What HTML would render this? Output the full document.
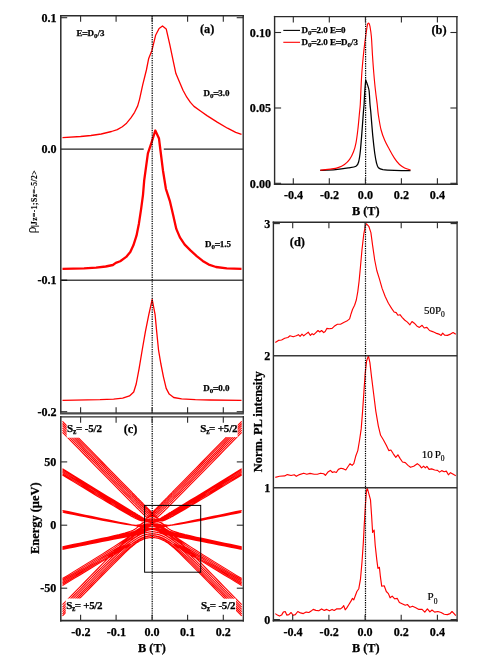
<!DOCTYPE html>
<html><head><meta charset="utf-8"><title>Figure</title>
<style>
html,body{margin:0;padding:0;background:#fff;}
body{width:485px;height:665px;overflow:hidden;font-family:"Liberation Serif",serif;}
svg{display:block;will-change:transform;font-family:"Liberation Serif",serif;}
</style></head><body>
<svg width="485" height="665" viewBox="0 0 485 665">

<path d="M62.5,137.6 L80.6,136.5 L90.9,135.5 L101.2,134.0 L111.5,131.5 L117.3,129.6 L122.3,126.7 L126.6,123.2 L130.9,117.9 L134.6,112.3 L137.7,105.9 L139.6,99.1 L142.7,84.8 L146.4,70.0 L148.6,58.8 L152.0,50.2 L155.6,35.3 L159.1,28.5 L162.5,26.0 L166.2,28.9 L169.8,44.6 L173.3,61.3 L175.9,73.6 L179.5,82.0 L183.0,90.2 L186.8,97.2 L190.4,102.4 L194.0,106.4 L200.8,111.3 L207.0,115.6 L217.2,122.1 L227.5,128.2 L235.7,132.4 L241.5,134.4" fill="none" stroke="#ff0000" stroke-width="1.3" stroke-linejoin="round"/>
<line x1="60.8" y1="149.2" x2="143.7" y2="149.2" stroke="#222" stroke-width="1.25" />
<line x1="163.8" y1="149.2" x2="243.2" y2="149.2" stroke="#222" stroke-width="1.25" />
<line x1="60.8" y1="280.3" x2="243.2" y2="280.3" stroke="#484848" stroke-width="1.5" />
<line x1="60.8" y1="280.3" x2="67.2" y2="280.3" stroke="#111" stroke-width="1.3" />
<path d="M62.5,268.9 L84.1,268.4 L96.1,267.7 L105.7,266.5 L112.9,265.0 L115.8,262.9 L120.2,261.2 L126.2,256.9 L130.3,252.0 L133.4,245.3 L136.5,235.7 L138.9,223.7 L141.1,209.2 L143.0,194.8 L144.2,180.3 L147.9,153.4 L151.6,142.3 L155.3,130.5 L159.0,138.6 L160.6,151.5 L163.0,170.7 L165.9,188.8 L169.8,200.8 L173.2,215.2 L176.3,228.9 L179.9,237.4 L184.7,244.6 L190.7,250.6 L196.7,256.1 L202.7,260.9 L208.8,264.6 L216.0,267.0 L226.8,268.4 L241.5,268.9" fill="none" stroke="#ff0000" stroke-width="2.3" stroke-linejoin="round"/>
<path d="M62.5,400.3 L100.0,399.7 L113.6,399.1 L122.7,398.2 L129.5,395.9 L133.7,392.0 L136.2,384.0 L139.1,368.6 L142.2,350.0 L145.4,331.7 L148.8,314.7 L152.2,299.5 L155.1,314.7 L156.7,331.7 L158.5,349.8 L160.8,363.5 L163.5,377.1 L166.2,388.4 L169.2,394.1 L173.7,397.5 L181.6,398.8 L195.3,399.7 L210.0,400.0 L241.5,400.3" fill="none" stroke="#ff0000" stroke-width="1.3" stroke-linejoin="round"/>
<line x1="152.2" y1="15.7" x2="152.2" y2="413.3" stroke="#000" stroke-width="1.2" stroke-dasharray="1.3,1.03"/>
<line x1="60.8" y1="15.0" x2="60.8" y2="413.3" stroke="#2b2b2b" stroke-width="1.5" /><line x1="243.2" y1="15.0" x2="243.2" y2="413.3" stroke="#2b2b2b" stroke-width="1.4" /><line x1="60.0" y1="15.7" x2="243.9" y2="15.7" stroke="#2b2b2b" stroke-width="1.4" /><line x1="60.0" y1="413.3" x2="243.9" y2="413.3" stroke="#2b2b2b" stroke-width="0.01" />
<line x1="60.0" y1="413.4" x2="243.9" y2="413.4" stroke="#4a4a4a" stroke-width="2.2" />
<line x1="80.6" y1="15.7" x2="80.6" y2="21.7" stroke="#2b2b2b" stroke-width="1.1" />
<line x1="80.6" y1="413.3" x2="80.6" y2="407.3" stroke="#2b2b2b" stroke-width="1.1" />
<line x1="116.1" y1="15.7" x2="116.1" y2="21.7" stroke="#2b2b2b" stroke-width="1.1" />
<line x1="116.1" y1="413.3" x2="116.1" y2="407.3" stroke="#2b2b2b" stroke-width="1.1" />
<line x1="152.1" y1="15.7" x2="152.1" y2="21.7" stroke="#2b2b2b" stroke-width="1.1" />
<line x1="152.1" y1="413.3" x2="152.1" y2="407.3" stroke="#2b2b2b" stroke-width="1.1" />
<line x1="187.6" y1="15.7" x2="187.6" y2="21.7" stroke="#2b2b2b" stroke-width="1.1" />
<line x1="187.6" y1="413.3" x2="187.6" y2="407.3" stroke="#2b2b2b" stroke-width="1.1" />
<line x1="223.3" y1="15.7" x2="223.3" y2="21.7" stroke="#2b2b2b" stroke-width="1.1" />
<line x1="223.3" y1="413.3" x2="223.3" y2="407.3" stroke="#2b2b2b" stroke-width="1.1" />
<line x1="60.8" y1="17.7" x2="67.2" y2="17.7" stroke="#2b2b2b" stroke-width="1.1" />
<line x1="243.2" y1="17.7" x2="236.7" y2="17.7" stroke="#2b2b2b" stroke-width="1.1" />
<line x1="60.8" y1="411.7" x2="67.2" y2="411.7" stroke="#2b2b2b" stroke-width="1.1" />
<line x1="243.2" y1="411.7" x2="236.7" y2="411.7" stroke="#2b2b2b" stroke-width="1.1" />
<text x="56.6" y="21.7" font-size="12.1" text-anchor="end" font-weight="bold" fill="#000" stroke="#000" stroke-width="0.25" >0.1</text>
<text x="56.6" y="153.0" font-size="12.1" text-anchor="end" font-weight="bold" fill="#000" stroke="#000" stroke-width="0.25" >0.0</text>
<text x="56.6" y="284.4" font-size="12.1" text-anchor="end" font-weight="bold" fill="#000" stroke="#000" stroke-width="0.25" >-0.1</text>
<text x="56.6" y="415.7" font-size="12.1" text-anchor="end" font-weight="bold" fill="#000" stroke="#000" stroke-width="0.25" >-0.2</text>
<text x="90.5" y="36.2" font-size="9" text-anchor="middle" font-weight="bold" fill="#000" stroke="#000" stroke-width="0.25" >E<tspan font-size="10.6" dx="-0.5" dy="1.0">=</tspan><tspan dx="-0.55" dy="-1.0" font-size="1">&#8203;</tspan>D<tspan font-size="7" dy="2.1">0</tspan><tspan dy="-2.1" font-size="1">&#8203;</tspan>/3</text>
<text x="207.2" y="33.0" font-size="12.4" text-anchor="middle" font-weight="bold" fill="#000" stroke="#000" stroke-width="0.25" >(a)</text>
<text x="216.5" y="95.9" font-size="9" text-anchor="middle" font-weight="bold" fill="#000" stroke="#000" stroke-width="0.25" >D<tspan font-size="7" dy="2.1">0</tspan><tspan dy="-2.1" font-size="1">&#8203;</tspan><tspan font-size="10.6" dx="-0.5" dy="1.0">=</tspan><tspan dx="-0.55" dy="-1.0" font-size="1">&#8203;</tspan>3.0</text>
<text x="218.0" y="247.0" font-size="9" text-anchor="middle" font-weight="bold" fill="#000" stroke="#000" stroke-width="0.25" >D<tspan font-size="7" dy="2.1">0</tspan><tspan dy="-2.1" font-size="1">&#8203;</tspan><tspan font-size="10.6" dx="-0.5" dy="1.0">=</tspan><tspan dx="-0.55" dy="-1.0" font-size="1">&#8203;</tspan>1.5</text>
<text x="216.3" y="391.2" font-size="9" text-anchor="middle" font-weight="bold" fill="#000" stroke="#000" stroke-width="0.25" >D<tspan font-size="7" dy="2.1">0</tspan><tspan dy="-2.1" font-size="1">&#8203;</tspan><tspan font-size="10.6" dx="-0.5" dy="1.0">=</tspan><tspan dx="-0.55" dy="-1.0" font-size="1">&#8203;</tspan>0.0</text>
<g transform="translate(35.8,233.6) rotate(-90)"><text x="0" y="0" font-size="14" font-weight="normal" text-anchor="start">&#961;</text><text x="6.6" y="1.2" font-size="7.6" font-weight="bold" text-anchor="start" stroke="#000" stroke-width="0.15" textLength="56.5" lengthAdjust="spacing">|Jz=-1;Sz=-5/2&gt;</text></g>
<clipPath id="cc"><rect x="60.75" y="416.75" width="182.55" height="203.95000000000005"/></clipPath>
<g clip-path="url(#cc)">
<path d="M62.5,615.9 L68.2,610.1 L73.8,604.4 L79.5,598.6 L85.2,592.8 L90.9,587.0 L96.5,581.3 L102.2,575.5 L107.9,569.8 L113.6,564.1 L119.2,558.5 L124.9,552.9 L130.6,547.7 L130.9,547.4 L131.3,547.1 L131.7,546.8 L132.0,546.5 L132.4,546.2 L132.7,545.9 L133.1,545.6 L133.4,545.3 L133.8,545.0 L134.1,544.7 L134.5,544.4 L134.9,544.2 L135.2,543.9 L135.6,543.6 L135.9,543.4 L136.3,543.1 L136.6,542.9 L137.0,542.6 L137.3,542.4 L137.7,542.2 L138.1,542.0 L138.4,541.7 L138.8,541.5 L139.1,541.3 L139.5,541.1 L139.8,540.9 L140.2,540.7 L140.5,540.6 L140.9,540.4 L141.3,540.2 L141.6,540.0 L142.0,539.9 L142.3,539.7 L142.7,539.6 L143.0,539.4 L143.4,539.3 L143.7,539.1 L144.1,539.0 L144.5,538.9 L144.8,538.8 L145.2,538.6 L145.5,538.5 L145.9,538.4 L146.2,538.3 L146.6,538.2 L146.9,538.2 L147.3,538.1 L147.7,538.0 L148.0,537.9 L148.4,537.9 L148.7,537.8 L149.1,537.8 L149.4,537.7 L149.8,537.7 L150.1,537.6 L150.5,537.6 L150.9,537.6 L151.2,537.6 L151.6,537.6 L151.9,537.6 L152.3,537.6 L152.6,537.6 L153.0,537.6 L153.3,537.6 L153.7,537.6 L154.1,537.6 L154.4,537.7 L154.8,537.7 L155.1,537.8 L155.5,537.8 L155.8,537.9 L156.2,537.9 L156.5,538.0 L156.9,538.1 L157.3,538.2 L157.6,538.2 L158.0,538.3 L158.3,538.4 L158.7,538.5 L159.0,538.6 L159.4,538.8 L159.7,538.9 L160.1,539.0 L160.5,539.1 L160.8,539.3 L161.2,539.4 L161.5,539.6 L161.9,539.7 L162.2,539.9 L162.6,540.0 L162.9,540.2 L163.3,540.4 L163.7,540.6 L164.0,540.7 L164.4,540.9 L164.7,541.1 L165.1,541.3 L165.4,541.5 L165.8,541.7 L166.1,542.0 L166.5,542.2 L166.9,542.4 L167.2,542.6 L167.6,542.9 L167.9,543.1 L168.3,543.4 L168.6,543.6 L169.0,543.9 L169.3,544.2 L169.7,544.4 L170.1,544.7 L170.4,545.0 L170.8,545.3 L171.1,545.6 L171.5,545.9 L171.8,546.2 L172.2,546.5 L172.5,546.8 L172.9,547.1 L173.3,547.4 L173.6,547.7 L179.3,552.9 L185.0,558.5 L190.6,564.1 L196.3,569.8 L202.0,575.5 L207.7,581.3 L213.3,587.0 L219.0,592.8 L224.7,598.6 L230.4,604.4 L236.0,610.1 L241.7,615.9 M62.5,613.8 L68.2,608.0 L73.8,602.3 L79.5,596.5 L85.2,590.7 L90.9,585.0 L96.5,579.3 L102.2,573.5 L107.9,567.9 L113.6,562.2 L119.2,556.7 L124.9,551.4 L130.6,546.5 L130.9,546.2 L131.3,546.0 L131.7,545.7 L132.0,545.4 L132.4,545.2 L132.7,544.9 L133.1,544.7 L133.4,544.4 L133.8,544.2 L134.1,543.9 L134.5,543.7 L134.9,543.5 L135.2,543.2 L135.6,543.0 L135.9,542.8 L136.3,542.6 L136.6,542.4 L137.0,542.2 L137.3,542.0 L137.7,541.8 L138.1,541.6 L138.4,541.4 L138.8,541.2 L139.1,541.0 L139.5,540.8 L139.8,540.7 L140.2,540.5 L140.5,540.3 L140.9,540.2 L141.3,540.0 L141.6,539.9 L142.0,539.7 L142.3,539.6 L142.7,539.4 L143.0,539.3 L143.4,539.2 L143.7,539.0 L144.1,538.9 L144.5,538.8 L144.8,538.7 L145.2,538.6 L145.5,538.5 L145.9,538.4 L146.2,538.3 L146.6,538.2 L146.9,538.1 L147.3,538.0 L147.7,538.0 L148.0,537.9 L148.4,537.8 L148.7,537.8 L149.1,537.7 L149.4,537.7 L149.8,537.6 L150.1,537.6 L150.5,537.6 L150.9,537.6 L151.2,537.5 L151.6,537.5 L151.9,537.5 L152.3,537.5 L152.6,537.5 L153.0,537.5 L153.3,537.6 L153.7,537.6 L154.1,537.6 L154.4,537.6 L154.8,537.7 L155.1,537.7 L155.5,537.8 L155.8,537.8 L156.2,537.9 L156.5,538.0 L156.9,538.0 L157.3,538.1 L157.6,538.2 L158.0,538.3 L158.3,538.4 L158.7,538.5 L159.0,538.6 L159.4,538.7 L159.7,538.8 L160.1,538.9 L160.5,539.0 L160.8,539.2 L161.2,539.3 L161.5,539.4 L161.9,539.6 L162.2,539.7 L162.6,539.9 L162.9,540.0 L163.3,540.2 L163.7,540.3 L164.0,540.5 L164.4,540.7 L164.7,540.8 L165.1,541.0 L165.4,541.2 L165.8,541.4 L166.1,541.6 L166.5,541.8 L166.9,542.0 L167.2,542.2 L167.6,542.4 L167.9,542.6 L168.3,542.8 L168.6,543.0 L169.0,543.2 L169.3,543.5 L169.7,543.7 L170.1,543.9 L170.4,544.2 L170.8,544.4 L171.1,544.7 L171.5,544.9 L171.8,545.2 L172.2,545.4 L172.5,545.7 L172.9,546.0 L173.3,546.2 L173.6,546.5 L179.3,551.4 L185.0,556.7 L190.6,562.2 L196.3,567.9 L202.0,573.5 L207.7,579.3 L213.3,585.0 L219.0,590.7 L224.7,596.5 L230.4,602.3 L236.0,608.0 L241.7,613.8 M62.5,611.6 L68.2,605.9 L73.8,600.1 L79.5,594.3 L85.2,588.6 L90.9,582.8 L96.5,577.1 L102.2,571.4 L107.9,565.8 L113.6,560.2 L119.2,554.8 L124.9,549.6 L130.6,544.9 L130.9,544.6 L131.3,544.3 L131.7,544.1 L132.0,543.8 L132.4,543.6 L132.7,543.4 L133.1,543.1 L133.4,542.9 L133.8,542.7 L134.1,542.5 L134.5,542.3 L134.9,542.1 L135.2,541.9 L135.6,541.7 L135.9,541.5 L136.3,541.3 L136.6,541.1 L137.0,540.9 L137.3,540.7 L137.7,540.5 L138.1,540.3 L138.4,540.1 L138.8,540.0 L139.1,539.8 L139.5,539.6 L139.8,539.4 L140.2,539.2 L140.5,539.1 L140.9,538.9 L141.3,538.7 L141.6,538.6 L142.0,538.4 L142.3,538.3 L142.7,538.1 L143.0,538.0 L143.4,537.8 L143.7,537.7 L144.1,537.5 L144.5,537.4 L144.8,537.3 L145.2,537.2 L145.5,537.1 L145.9,536.9 L146.2,536.8 L146.6,536.7 L146.9,536.6 L147.3,536.6 L147.7,536.5 L148.0,536.4 L148.4,536.3 L148.7,536.3 L149.1,536.2 L149.4,536.1 L149.8,536.1 L150.1,536.1 L150.5,536.0 L150.9,536.0 L151.2,536.0 L151.6,536.0 L151.9,536.0 L152.3,536.0 L152.6,536.0 L153.0,536.0 L153.3,536.0 L153.7,536.0 L154.1,536.1 L154.4,536.1 L154.8,536.1 L155.1,536.2 L155.5,536.3 L155.8,536.3 L156.2,536.4 L156.5,536.5 L156.9,536.6 L157.3,536.6 L157.6,536.7 L158.0,536.8 L158.3,536.9 L158.7,537.1 L159.0,537.2 L159.4,537.3 L159.7,537.4 L160.1,537.5 L160.5,537.7 L160.8,537.8 L161.2,538.0 L161.5,538.1 L161.9,538.3 L162.2,538.4 L162.6,538.6 L162.9,538.7 L163.3,538.9 L163.7,539.1 L164.0,539.2 L164.4,539.4 L164.7,539.6 L165.1,539.8 L165.4,540.0 L165.8,540.1 L166.1,540.3 L166.5,540.5 L166.9,540.7 L167.2,540.9 L167.6,541.1 L167.9,541.3 L168.3,541.5 L168.6,541.7 L169.0,541.9 L169.3,542.1 L169.7,542.3 L170.1,542.5 L170.4,542.7 L170.8,542.9 L171.1,543.1 L171.5,543.4 L171.8,543.6 L172.2,543.8 L172.5,544.1 L172.9,544.3 L173.3,544.6 L173.6,544.9 L179.3,549.6 L185.0,554.8 L190.6,560.2 L196.3,565.8 L202.0,571.4 L207.7,577.1 L213.3,582.8 L219.0,588.6 L224.7,594.3 L230.4,600.1 L236.0,605.9 L241.7,611.6 M62.5,609.4 L68.2,603.6 L73.8,597.9 L79.5,592.1 L85.2,586.3 L90.9,580.6 L96.5,574.9 L102.2,569.2 L107.9,563.5 L113.6,558.0 L119.2,552.6 L124.9,547.9 L130.6,544.6 L130.9,544.4 L131.3,544.2 L131.7,544.0 L132.0,543.8 L132.4,543.6 L132.7,543.3 L133.1,543.1 L133.4,542.8 L133.8,542.6 L134.1,542.3 L134.5,542.1 L134.9,541.8 L135.2,541.6 L135.6,541.4 L135.9,541.1 L136.3,540.9 L136.6,540.7 L137.0,540.5 L137.3,540.3 L137.7,540.0 L138.1,539.8 L138.4,539.6 L138.8,539.4 L139.1,539.2 L139.5,539.0 L139.8,538.8 L140.2,538.7 L140.5,538.5 L140.9,538.3 L141.3,538.1 L141.6,538.0 L142.0,537.8 L142.3,537.7 L142.7,537.5 L143.0,537.4 L143.4,537.2 L143.7,537.1 L144.1,537.0 L144.5,536.9 L144.8,536.7 L145.2,536.6 L145.5,536.5 L145.9,536.4 L146.2,536.3 L146.6,536.2 L146.9,536.2 L147.3,536.1 L147.7,536.0 L148.0,536.0 L148.4,535.9 L148.7,535.8 L149.1,535.8 L149.4,535.7 L149.8,535.7 L150.1,535.7 L150.5,535.6 L150.9,535.6 L151.2,535.6 L151.6,535.6 L151.9,535.6 L152.3,535.6 L152.6,535.6 L153.0,535.6 L153.3,535.6 L153.7,535.6 L154.1,535.7 L154.4,535.7 L154.8,535.7 L155.1,535.8 L155.5,535.8 L155.8,535.9 L156.2,536.0 L156.5,536.0 L156.9,536.1 L157.3,536.2 L157.6,536.2 L158.0,536.3 L158.3,536.4 L158.7,536.5 L159.0,536.6 L159.4,536.7 L159.7,536.9 L160.1,537.0 L160.5,537.1 L160.8,537.2 L161.2,537.4 L161.5,537.5 L161.9,537.7 L162.2,537.8 L162.6,538.0 L162.9,538.1 L163.3,538.3 L163.7,538.5 L164.0,538.7 L164.4,538.8 L164.7,539.0 L165.1,539.2 L165.4,539.4 L165.8,539.6 L166.1,539.8 L166.5,540.0 L166.9,540.3 L167.2,540.5 L167.6,540.7 L167.9,540.9 L168.3,541.1 L168.6,541.4 L169.0,541.6 L169.3,541.8 L169.7,542.1 L170.1,542.3 L170.4,542.6 L170.8,542.8 L171.1,543.1 L171.5,543.3 L171.8,543.6 L172.2,543.8 L172.5,544.0 L172.9,544.2 L173.3,544.4 L173.6,544.6 L179.3,547.9 L185.0,552.6 L190.6,558.0 L196.3,563.5 L202.0,569.2 L207.7,574.9 L213.3,580.6 L219.0,586.3 L224.7,592.1 L230.4,597.9 L236.0,603.6 L241.7,609.4 M62.5,607.1 L68.2,601.3 L73.8,595.5 L79.5,589.8 L85.2,584.0 L90.9,578.2 L96.5,572.5 L102.2,566.8 L107.9,561.1 L113.6,555.5 L119.2,551.3 L124.9,547.4 L130.6,542.8 L130.9,542.6 L131.3,542.3 L131.7,542.1 L132.0,541.8 L132.4,541.6 L132.7,541.3 L133.1,541.1 L133.4,540.8 L133.8,540.6 L134.1,540.4 L134.5,540.1 L134.9,539.9 L135.2,539.7 L135.6,539.4 L135.9,539.2 L136.3,539.0 L136.6,538.7 L137.0,538.5 L137.3,538.3 L137.7,538.1 L138.1,537.9 L138.4,537.7 L138.8,537.5 L139.1,537.3 L139.5,537.1 L139.8,537.0 L140.2,536.8 L140.5,536.6 L140.9,536.5 L141.3,536.3 L141.6,536.1 L142.0,536.0 L142.3,535.8 L142.7,535.7 L143.0,535.5 L143.4,535.4 L143.7,535.3 L144.1,535.2 L144.5,535.0 L144.8,534.9 L145.2,534.8 L145.5,534.7 L145.9,534.6 L146.2,534.5 L146.6,534.4 L146.9,534.4 L147.3,534.3 L147.7,534.3 L148.0,534.3 L148.4,534.2 L148.7,534.2 L149.1,534.1 L149.4,534.1 L149.8,534.1 L150.1,534.1 L150.5,534.1 L150.9,534.0 L151.2,534.0 L151.6,534.0 L151.9,534.0 L152.3,534.0 L152.6,534.0 L153.0,534.0 L153.3,534.0 L153.7,534.1 L154.1,534.1 L154.4,534.1 L154.8,534.1 L155.1,534.1 L155.5,534.2 L155.8,534.2 L156.2,534.3 L156.5,534.3 L156.9,534.3 L157.3,534.4 L157.6,534.4 L158.0,534.5 L158.3,534.6 L158.7,534.7 L159.0,534.8 L159.4,534.9 L159.7,535.0 L160.1,535.2 L160.5,535.3 L160.8,535.4 L161.2,535.5 L161.5,535.7 L161.9,535.8 L162.2,536.0 L162.6,536.1 L162.9,536.3 L163.3,536.5 L163.7,536.6 L164.0,536.8 L164.4,537.0 L164.7,537.1 L165.1,537.3 L165.4,537.5 L165.8,537.7 L166.1,537.9 L166.5,538.1 L166.9,538.3 L167.2,538.5 L167.6,538.7 L167.9,539.0 L168.3,539.2 L168.6,539.4 L169.0,539.7 L169.3,539.9 L169.7,540.1 L170.1,540.4 L170.4,540.6 L170.8,540.8 L171.1,541.1 L171.5,541.3 L171.8,541.6 L172.2,541.8 L172.5,542.1 L172.9,542.3 L173.3,542.6 L173.6,542.8 L179.3,547.4 L185.0,551.3 L190.6,555.5 L196.3,561.1 L202.0,566.8 L207.7,572.5 L213.3,578.2 L219.0,584.0 L224.7,589.8 L230.4,595.5 L236.0,601.3 L241.7,607.1 M62.5,604.7 L68.2,598.9 L73.8,593.1 L79.5,587.3 L85.2,581.5 L90.9,575.7 L96.5,570.0 L102.2,564.2 L107.9,558.4 L113.6,554.6 L119.2,550.0 L124.9,546.3 L130.6,542.7 L130.9,542.5 L131.3,542.2 L131.7,542.0 L132.0,541.8 L132.4,541.5 L132.7,541.3 L133.1,541.1 L133.4,540.8 L133.8,540.6 L134.1,540.3 L134.5,540.1 L134.9,539.9 L135.2,539.6 L135.6,539.4 L135.9,539.2 L136.3,539.0 L136.6,538.7 L137.0,538.5 L137.3,538.3 L137.7,538.1 L138.1,537.8 L138.4,537.6 L138.8,537.4 L139.1,537.2 L139.5,537.0 L139.8,536.8 L140.2,536.6 L140.5,536.4 L140.9,536.2 L141.3,536.0 L141.6,535.9 L142.0,535.7 L142.3,535.6 L142.7,535.4 L143.0,535.3 L143.4,535.2 L143.7,535.1 L144.1,535.0 L144.5,534.9 L144.8,534.8 L145.2,534.7 L145.5,534.6 L145.9,534.6 L146.2,534.5 L146.6,534.4 L146.9,534.3 L147.3,534.3 L147.7,534.2 L148.0,534.1 L148.4,534.0 L148.7,534.0 L149.1,533.9 L149.4,533.9 L149.8,533.8 L150.1,533.8 L150.5,533.8 L150.9,533.7 L151.2,533.7 L151.6,533.7 L151.9,533.7 L152.3,533.7 L152.6,533.7 L153.0,533.7 L153.3,533.7 L153.7,533.8 L154.1,533.8 L154.4,533.8 L154.8,533.9 L155.1,533.9 L155.5,534.0 L155.8,534.0 L156.2,534.1 L156.5,534.2 L156.9,534.3 L157.3,534.3 L157.6,534.4 L158.0,534.5 L158.3,534.6 L158.7,534.6 L159.0,534.7 L159.4,534.8 L159.7,534.9 L160.1,535.0 L160.5,535.1 L160.8,535.2 L161.2,535.3 L161.5,535.4 L161.9,535.6 L162.2,535.7 L162.6,535.9 L162.9,536.0 L163.3,536.2 L163.7,536.4 L164.0,536.6 L164.4,536.8 L164.7,537.0 L165.1,537.2 L165.4,537.4 L165.8,537.6 L166.1,537.8 L166.5,538.1 L166.9,538.3 L167.2,538.5 L167.6,538.7 L167.9,539.0 L168.3,539.2 L168.6,539.4 L169.0,539.6 L169.3,539.9 L169.7,540.1 L170.1,540.3 L170.4,540.6 L170.8,540.8 L171.1,541.1 L171.5,541.3 L171.8,541.5 L172.2,541.8 L172.5,542.0 L172.9,542.2 L173.3,542.5 L173.6,542.7 L179.3,546.3 L185.0,550.0 L190.6,554.6 L196.3,558.4 L202.0,564.2 L207.7,570.0 L213.3,575.7 L219.0,581.5 L224.7,587.3 L230.4,593.1 L236.0,598.9 L241.7,604.7 M62.5,585.6 L68.2,582.1 L73.8,578.6 L79.5,575.2 L85.2,571.7 L90.9,568.3 L96.5,564.9 L102.2,561.4 L107.9,558.0 L113.6,553.2 L119.2,549.7 L124.9,544.9 L130.6,540.8 L130.9,540.6 L131.3,540.3 L131.7,540.1 L132.0,539.9 L132.4,539.6 L132.7,539.4 L133.1,539.1 L133.4,538.9 L133.8,538.6 L134.1,538.4 L134.5,538.1 L134.9,537.9 L135.2,537.7 L135.6,537.4 L135.9,537.2 L136.3,536.9 L136.6,536.7 L137.0,536.5 L137.3,536.2 L137.7,536.0 L138.1,535.8 L138.4,535.6 L138.8,535.4 L139.1,535.2 L139.5,535.0 L139.8,534.8 L140.2,534.6 L140.5,534.4 L140.9,534.3 L141.3,534.1 L141.6,534.0 L142.0,533.8 L142.3,533.7 L142.7,533.6 L143.0,533.5 L143.4,533.4 L143.7,533.2 L144.1,533.1 L144.5,533.0 L144.8,532.9 L145.2,532.8 L145.5,532.8 L145.9,532.7 L146.2,532.6 L146.6,532.5 L146.9,532.4 L147.3,532.4 L147.7,532.3 L148.0,532.2 L148.4,532.1 L148.7,532.1 L149.1,532.0 L149.4,532.0 L149.8,531.9 L150.1,531.9 L150.5,531.9 L150.9,531.8 L151.2,531.8 L151.6,531.8 L151.9,531.8 L152.3,531.8 L152.6,531.8 L153.0,531.8 L153.3,531.8 L153.7,531.9 L154.1,531.9 L154.4,531.9 L154.8,532.0 L155.1,532.0 L155.5,532.1 L155.8,532.1 L156.2,532.2 L156.5,532.3 L156.9,532.4 L157.3,532.4 L157.6,532.5 L158.0,532.6 L158.3,532.7 L158.7,532.8 L159.0,532.8 L159.4,532.9 L159.7,533.0 L160.1,533.1 L160.5,533.2 L160.8,533.4 L161.2,533.5 L161.5,533.6 L161.9,533.7 L162.2,533.8 L162.6,534.0 L162.9,534.1 L163.3,534.3 L163.7,534.4 L164.0,534.6 L164.4,534.8 L164.7,535.0 L165.1,535.2 L165.4,535.4 L165.8,535.6 L166.1,535.8 L166.5,536.0 L166.9,536.2 L167.2,536.5 L167.6,536.7 L167.9,536.9 L168.3,537.2 L168.6,537.4 L169.0,537.7 L169.3,537.9 L169.7,538.1 L170.1,538.4 L170.4,538.6 L170.8,538.9 L171.1,539.1 L171.5,539.4 L171.8,539.6 L172.2,539.9 L172.5,540.1 L172.9,540.3 L173.3,540.6 L173.6,540.8 L179.3,544.9 L185.0,549.7 L190.6,553.2 L196.3,558.0 L202.0,561.4 L207.7,564.9 L213.3,568.3 L219.0,571.7 L224.7,575.2 L230.4,578.6 L236.0,582.1 L241.7,585.6 M62.5,584.2 L68.2,580.8 L73.8,577.3 L79.5,573.8 L85.2,570.4 L90.9,566.9 L96.5,563.5 L102.2,560.1 L107.9,556.6 L113.6,552.7 L119.2,548.2 L124.9,544.6 L130.6,540.4 L130.9,540.1 L131.3,539.8 L131.7,539.6 L132.0,539.3 L132.4,539.1 L132.7,538.8 L133.1,538.6 L133.4,538.3 L133.8,538.1 L134.1,537.9 L134.5,537.6 L134.9,537.4 L135.2,537.2 L135.6,536.9 L135.9,536.7 L136.3,536.5 L136.6,536.3 L137.0,536.1 L137.3,535.8 L137.7,535.6 L138.1,535.4 L138.4,535.2 L138.8,535.1 L139.1,534.9 L139.5,534.7 L139.8,534.5 L140.2,534.4 L140.5,534.2 L140.9,534.1 L141.3,533.9 L141.6,533.8 L142.0,533.7 L142.3,533.5 L142.7,533.4 L143.0,533.3 L143.4,533.2 L143.7,533.1 L144.1,533.0 L144.5,532.9 L144.8,532.8 L145.2,532.7 L145.5,532.7 L145.9,532.6 L146.2,532.5 L146.6,532.4 L146.9,532.4 L147.3,532.3 L147.7,532.2 L148.0,532.2 L148.4,532.1 L148.7,532.1 L149.1,532.0 L149.4,532.0 L149.8,531.9 L150.1,531.9 L150.5,531.9 L150.9,531.8 L151.2,531.8 L151.6,531.8 L151.9,531.8 L152.3,531.8 L152.6,531.8 L153.0,531.8 L153.3,531.8 L153.7,531.9 L154.1,531.9 L154.4,531.9 L154.8,532.0 L155.1,532.0 L155.5,532.1 L155.8,532.1 L156.2,532.2 L156.5,532.2 L156.9,532.3 L157.3,532.4 L157.6,532.4 L158.0,532.5 L158.3,532.6 L158.7,532.7 L159.0,532.7 L159.4,532.8 L159.7,532.9 L160.1,533.0 L160.5,533.1 L160.8,533.2 L161.2,533.3 L161.5,533.4 L161.9,533.5 L162.2,533.7 L162.6,533.8 L162.9,533.9 L163.3,534.1 L163.7,534.2 L164.0,534.4 L164.4,534.5 L164.7,534.7 L165.1,534.9 L165.4,535.1 L165.8,535.2 L166.1,535.4 L166.5,535.6 L166.9,535.8 L167.2,536.1 L167.6,536.3 L167.9,536.5 L168.3,536.7 L168.6,536.9 L169.0,537.2 L169.3,537.4 L169.7,537.6 L170.1,537.9 L170.4,538.1 L170.8,538.3 L171.1,538.6 L171.5,538.8 L171.8,539.1 L172.2,539.3 L172.5,539.6 L172.9,539.8 L173.3,540.1 L173.6,540.4 L179.3,544.6 L185.0,548.2 L190.6,552.7 L196.3,556.6 L202.0,560.1 L207.7,563.5 L213.3,566.9 L219.0,570.4 L224.7,573.8 L230.4,577.3 L236.0,580.8 L241.7,584.2 M62.5,582.8 L68.2,579.4 L73.8,575.9 L79.5,572.5 L85.2,569.0 L90.9,565.5 L96.5,562.1 L102.2,558.6 L107.9,555.2 L113.6,551.7 L119.2,547.0 L124.9,542.8 L130.6,538.8 L130.9,538.5 L131.3,538.3 L131.7,538.0 L132.0,537.7 L132.4,537.5 L132.7,537.2 L133.1,537.0 L133.4,536.7 L133.8,536.4 L134.1,536.2 L134.5,535.9 L134.9,535.7 L135.2,535.4 L135.6,535.2 L135.9,534.9 L136.3,534.8 L136.6,534.8 L137.0,534.7 L137.3,534.6 L137.7,534.5 L138.1,534.4 L138.4,534.3 L138.8,534.2 L139.1,534.1 L139.5,534.0 L139.8,533.9 L140.2,533.8 L140.5,533.6 L140.9,533.5 L141.3,533.3 L141.6,533.2 L142.0,533.0 L142.3,532.8 L142.7,532.6 L143.0,532.4 L143.4,532.3 L143.7,532.1 L144.1,531.9 L144.5,531.7 L144.8,531.5 L145.2,531.4 L145.5,531.2 L145.9,531.1 L146.2,530.9 L146.6,530.8 L146.9,530.7 L147.3,530.6 L147.7,530.4 L148.0,530.3 L148.4,530.2 L148.7,530.1 L149.1,530.0 L149.4,529.9 L149.8,529.9 L150.1,529.8 L150.5,529.7 L150.9,529.6 L151.2,529.6 L151.6,529.5 L151.9,529.4 L152.3,529.4 L152.6,529.5 L153.0,529.6 L153.3,529.6 L153.7,529.7 L154.1,529.8 L154.4,529.9 L154.8,529.9 L155.1,530.0 L155.5,530.1 L155.8,530.2 L156.2,530.3 L156.5,530.4 L156.9,530.6 L157.3,530.7 L157.6,530.8 L158.0,530.9 L158.3,531.1 L158.7,531.2 L159.0,531.4 L159.4,531.5 L159.7,531.7 L160.1,531.9 L160.5,532.1 L160.8,532.3 L161.2,532.4 L161.5,532.6 L161.9,532.8 L162.2,533.0 L162.6,533.2 L162.9,533.3 L163.3,533.5 L163.7,533.6 L164.0,533.8 L164.4,533.9 L164.7,534.0 L165.1,534.1 L165.4,534.2 L165.8,534.3 L166.1,534.4 L166.5,534.5 L166.9,534.6 L167.2,534.7 L167.6,534.8 L167.9,534.8 L168.3,534.9 L168.6,535.2 L169.0,535.4 L169.3,535.7 L169.7,535.9 L170.1,536.2 L170.4,536.4 L170.8,536.7 L171.1,537.0 L171.5,537.2 L171.8,537.5 L172.2,537.7 L172.5,538.0 L172.9,538.3 L173.3,538.5 L173.6,538.8 L179.3,542.8 L185.0,547.0 L190.6,551.7 L196.3,555.2 L202.0,558.6 L207.7,562.1 L213.3,565.5 L219.0,569.0 L224.7,572.5 L230.4,575.9 L236.0,579.4 L241.7,582.8 M62.5,581.4 L68.2,578.0 L73.8,574.5 L79.5,571.0 L85.2,567.6 L90.9,564.1 L96.5,560.6 L102.2,557.2 L107.9,553.7 L113.6,550.2 L119.2,546.6 L124.9,541.9 L130.6,537.7 L130.9,537.4 L131.3,537.2 L131.7,536.9 L132.0,536.7 L132.4,536.4 L132.7,536.2 L133.1,535.9 L133.4,535.7 L133.8,535.4 L134.1,535.3 L134.5,535.2 L134.9,535.1 L135.2,535.1 L135.6,535.0 L135.9,534.9 L136.3,534.7 L136.6,534.4 L137.0,534.2 L137.3,533.9 L137.7,533.7 L138.1,533.6 L138.4,533.5 L138.8,533.4 L139.1,533.2 L139.5,533.1 L139.8,533.0 L140.2,532.9 L140.5,532.8 L140.9,532.7 L141.3,532.5 L141.6,532.4 L142.0,532.3 L142.3,532.1 L142.7,532.0 L143.0,531.9 L143.4,531.8 L143.7,531.6 L144.1,531.5 L144.5,531.4 L144.8,531.3 L145.2,531.1 L145.5,531.0 L145.9,530.9 L146.2,530.8 L146.6,530.7 L146.9,530.6 L147.3,530.5 L147.7,530.4 L148.0,530.3 L148.4,530.2 L148.7,530.1 L149.1,530.0 L149.4,529.9 L149.8,529.9 L150.1,529.8 L150.5,529.7 L150.9,529.6 L151.2,529.5 L151.6,529.5 L151.9,529.4 L152.3,529.4 L152.6,529.5 L153.0,529.5 L153.3,529.6 L153.7,529.7 L154.1,529.8 L154.4,529.9 L154.8,529.9 L155.1,530.0 L155.5,530.1 L155.8,530.2 L156.2,530.3 L156.5,530.4 L156.9,530.5 L157.3,530.6 L157.6,530.7 L158.0,530.8 L158.3,530.9 L158.7,531.0 L159.0,531.1 L159.4,531.3 L159.7,531.4 L160.1,531.5 L160.5,531.6 L160.8,531.8 L161.2,531.9 L161.5,532.0 L161.9,532.1 L162.2,532.3 L162.6,532.4 L162.9,532.5 L163.3,532.7 L163.7,532.8 L164.0,532.9 L164.4,533.0 L164.7,533.1 L165.1,533.2 L165.4,533.4 L165.8,533.5 L166.1,533.6 L166.5,533.7 L166.9,533.9 L167.2,534.2 L167.6,534.4 L167.9,534.7 L168.3,534.9 L168.6,535.0 L169.0,535.1 L169.3,535.1 L169.7,535.2 L170.1,535.3 L170.4,535.4 L170.8,535.7 L171.1,535.9 L171.5,536.2 L171.8,536.4 L172.2,536.7 L172.5,536.9 L172.9,537.2 L173.3,537.4 L173.6,537.7 L179.3,541.9 L185.0,546.6 L190.6,550.2 L196.3,553.7 L202.0,557.2 L207.7,560.6 L213.3,564.1 L219.0,567.6 L224.7,571.0 L230.4,574.5 L236.0,578.0 L241.7,581.4 M62.5,580.0 L68.2,576.5 L73.8,573.1 L79.5,569.6 L85.2,566.1 L90.9,562.6 L96.5,559.1 L102.2,555.6 L107.9,552.1 L113.6,548.6 L119.2,544.9 L124.9,540.7 L130.6,536.0 L130.9,535.9 L131.3,535.9 L131.7,535.8 L132.0,535.7 L132.4,535.6 L132.7,535.6 L133.1,535.5 L133.4,535.4 L133.8,535.4 L134.1,535.2 L134.5,534.9 L134.9,534.7 L135.2,534.5 L135.6,534.2 L135.9,534.1 L136.3,534.0 L136.6,533.9 L137.0,533.8 L137.3,533.7 L137.7,533.7 L138.1,533.5 L138.4,533.3 L138.8,533.1 L139.1,532.9 L139.5,532.7 L139.8,532.5 L140.2,532.4 L140.5,532.2 L140.9,532.1 L141.3,531.9 L141.6,531.8 L142.0,531.6 L142.3,531.5 L142.7,531.4 L143.0,531.2 L143.4,531.1 L143.7,530.9 L144.1,530.8 L144.5,530.6 L144.8,530.5 L145.2,530.3 L145.5,530.2 L145.9,530.0 L146.2,529.9 L146.6,529.7 L146.9,529.6 L147.3,529.5 L147.7,529.4 L148.0,529.3 L148.4,529.3 L148.7,529.2 L149.1,529.2 L149.4,529.2 L149.8,529.2 L150.1,529.2 L150.5,529.2 L150.9,529.2 L151.2,529.3 L151.6,529.3 L151.9,529.4 L152.3,529.4 L152.6,529.3 L153.0,529.3 L153.3,529.2 L153.7,529.2 L154.1,529.2 L154.4,529.2 L154.8,529.2 L155.1,529.2 L155.5,529.2 L155.8,529.3 L156.2,529.3 L156.5,529.4 L156.9,529.5 L157.3,529.6 L157.6,529.7 L158.0,529.9 L158.3,530.0 L158.7,530.2 L159.0,530.3 L159.4,530.5 L159.7,530.6 L160.1,530.8 L160.5,530.9 L160.8,531.1 L161.2,531.2 L161.5,531.4 L161.9,531.5 L162.2,531.6 L162.6,531.8 L162.9,531.9 L163.3,532.1 L163.7,532.2 L164.0,532.4 L164.4,532.5 L164.7,532.7 L165.1,532.9 L165.4,533.1 L165.8,533.3 L166.1,533.5 L166.5,533.7 L166.9,533.7 L167.2,533.8 L167.6,533.9 L167.9,534.0 L168.3,534.1 L168.6,534.2 L169.0,534.5 L169.3,534.7 L169.7,534.9 L170.1,535.2 L170.4,535.4 L170.8,535.4 L171.1,535.5 L171.5,535.6 L171.8,535.6 L172.2,535.7 L172.5,535.8 L172.9,535.9 L173.3,535.9 L173.6,536.0 L179.3,540.7 L185.0,544.9 L190.6,548.6 L196.3,552.1 L202.0,555.6 L207.7,559.1 L213.3,562.6 L219.0,566.1 L224.7,569.6 L230.4,573.1 L236.0,576.5 L241.7,580.0 M62.5,578.5 L68.2,575.1 L73.8,571.6 L79.5,568.1 L85.2,564.6 L90.9,561.1 L96.5,557.6 L102.2,554.1 L107.9,550.5 L113.6,546.9 L119.2,543.3 L124.9,539.5 L130.6,535.5 L130.9,535.2 L131.3,535.1 L131.7,535.0 L132.0,535.0 L132.4,534.9 L132.7,534.8 L133.1,534.7 L133.4,534.7 L133.8,534.6 L134.1,534.5 L134.5,534.4 L134.9,534.3 L135.2,534.3 L135.6,534.2 L135.9,534.0 L136.3,533.8 L136.6,533.6 L137.0,533.3 L137.3,533.1 L137.7,532.9 L138.1,532.7 L138.4,532.5 L138.8,532.4 L139.1,532.2 L139.5,532.0 L139.8,531.8 L140.2,531.6 L140.5,531.5 L140.9,531.3 L141.3,531.1 L141.6,530.9 L142.0,530.8 L142.3,530.6 L142.7,530.4 L143.0,530.3 L143.4,530.1 L143.7,529.9 L144.1,529.8 L144.5,529.6 L144.8,529.5 L145.2,529.4 L145.5,529.3 L145.9,529.2 L146.2,529.1 L146.6,529.1 L146.9,529.0 L147.3,529.0 L147.7,529.0 L148.0,528.9 L148.4,528.9 L148.7,529.0 L149.1,529.0 L149.4,529.0 L149.8,529.0 L150.1,529.1 L150.5,529.1 L150.9,529.2 L151.2,529.2 L151.6,529.3 L151.9,529.3 L152.3,529.3 L152.6,529.3 L153.0,529.2 L153.3,529.2 L153.7,529.1 L154.1,529.1 L154.4,529.0 L154.8,529.0 L155.1,529.0 L155.5,529.0 L155.8,528.9 L156.2,528.9 L156.5,529.0 L156.9,529.0 L157.3,529.0 L157.6,529.1 L158.0,529.1 L158.3,529.2 L158.7,529.3 L159.0,529.4 L159.4,529.5 L159.7,529.6 L160.1,529.8 L160.5,529.9 L160.8,530.1 L161.2,530.3 L161.5,530.4 L161.9,530.6 L162.2,530.8 L162.6,530.9 L162.9,531.1 L163.3,531.3 L163.7,531.5 L164.0,531.6 L164.4,531.8 L164.7,532.0 L165.1,532.2 L165.4,532.4 L165.8,532.5 L166.1,532.7 L166.5,532.9 L166.9,533.1 L167.2,533.3 L167.6,533.6 L167.9,533.8 L168.3,534.0 L168.6,534.2 L169.0,534.3 L169.3,534.3 L169.7,534.4 L170.1,534.5 L170.4,534.6 L170.8,534.7 L171.1,534.7 L171.5,534.8 L171.8,534.9 L172.2,535.0 L172.5,535.0 L172.9,535.1 L173.3,535.2 L173.6,535.5 L179.3,539.5 L185.0,543.3 L190.6,546.9 L196.3,550.5 L202.0,554.1 L207.7,557.6 L213.3,561.1 L219.0,564.6 L224.7,568.1 L230.4,571.6 L236.0,575.1 L241.7,578.5 M62.5,549.4 L68.2,548.3 L73.8,547.2 L79.5,546.0 L85.2,544.9 L90.9,543.7 L96.5,542.6 L102.2,541.5 L107.9,540.4 L113.6,539.3 L119.2,538.2 L124.9,537.1 L130.6,535.4 L130.9,535.2 L131.3,534.9 L131.7,534.6 L132.0,534.3 L132.4,534.1 L132.7,534.0 L133.1,533.9 L133.4,533.8 L133.8,533.7 L134.1,533.6 L134.5,533.5 L134.9,533.5 L135.2,533.4 L135.6,533.3 L135.9,533.2 L136.3,533.1 L136.6,533.0 L137.0,532.9 L137.3,532.8 L137.7,532.6 L138.1,532.5 L138.4,532.4 L138.8,532.3 L139.1,532.1 L139.5,532.0 L139.8,531.8 L140.2,531.6 L140.5,531.4 L140.9,531.2 L141.3,531.0 L141.6,530.9 L142.0,530.7 L142.3,530.5 L142.7,530.3 L143.0,530.1 L143.4,530.0 L143.7,529.8 L144.1,529.6 L144.5,529.5 L144.8,529.4 L145.2,529.2 L145.5,529.1 L145.9,529.0 L146.2,529.0 L146.6,528.9 L146.9,528.8 L147.3,528.8 L147.7,528.8 L148.0,528.7 L148.4,528.7 L148.7,528.7 L149.1,528.7 L149.4,528.8 L149.8,528.8 L150.1,528.8 L150.5,528.8 L150.9,528.8 L151.2,528.8 L151.6,528.8 L151.9,528.8 L152.3,528.8 L152.6,528.8 L153.0,528.8 L153.3,528.8 L153.7,528.8 L154.1,528.8 L154.4,528.8 L154.8,528.8 L155.1,528.7 L155.5,528.7 L155.8,528.7 L156.2,528.7 L156.5,528.8 L156.9,528.8 L157.3,528.8 L157.6,528.9 L158.0,529.0 L158.3,529.0 L158.7,529.1 L159.0,529.2 L159.4,529.4 L159.7,529.5 L160.1,529.6 L160.5,529.8 L160.8,530.0 L161.2,530.1 L161.5,530.3 L161.9,530.5 L162.2,530.7 L162.6,530.9 L162.9,531.0 L163.3,531.2 L163.7,531.4 L164.0,531.6 L164.4,531.8 L164.7,532.0 L165.1,532.1 L165.4,532.3 L165.8,532.4 L166.1,532.5 L166.5,532.6 L166.9,532.8 L167.2,532.9 L167.6,533.0 L167.9,533.1 L168.3,533.2 L168.6,533.3 L169.0,533.4 L169.3,533.5 L169.7,533.5 L170.1,533.6 L170.4,533.7 L170.8,533.8 L171.1,533.9 L171.5,534.0 L171.8,534.1 L172.2,534.3 L172.5,534.6 L172.9,534.9 L173.3,535.2 L173.6,535.4 L179.3,537.1 L185.0,538.2 L190.6,539.3 L196.3,540.4 L202.0,541.5 L207.7,542.6 L213.3,543.7 L219.0,544.9 L224.7,546.0 L230.4,547.2 L236.0,548.3 L241.7,549.4 M62.5,548.9 L68.2,547.8 L73.8,546.6 L79.5,545.5 L85.2,544.3 L90.9,543.2 L96.5,542.1 L102.2,540.9 L107.9,539.8 L113.6,538.7 L119.2,537.5 L124.9,536.4 L130.6,535.3 L130.9,535.1 L131.3,534.8 L131.7,534.5 L132.0,534.3 L132.4,534.0 L132.7,533.7 L133.1,533.4 L133.4,533.2 L133.8,532.9 L134.1,532.6 L134.5,532.5 L134.9,532.4 L135.2,532.3 L135.6,532.2 L135.9,532.1 L136.3,532.0 L136.6,531.9 L137.0,531.7 L137.3,531.6 L137.7,531.5 L138.1,531.4 L138.4,531.2 L138.8,531.1 L139.1,531.0 L139.5,530.8 L139.8,530.7 L140.2,530.5 L140.5,530.4 L140.9,530.3 L141.3,530.1 L141.6,530.0 L142.0,529.8 L142.3,529.7 L142.7,529.6 L143.0,529.4 L143.4,529.3 L143.7,529.2 L144.1,529.1 L144.5,529.0 L144.8,528.9 L145.2,528.8 L145.5,528.7 L145.9,528.6 L146.2,528.5 L146.6,528.5 L146.9,528.4 L147.3,528.4 L147.7,528.4 L148.0,528.3 L148.4,528.3 L148.7,528.3 L149.1,528.3 L149.4,528.3 L149.8,528.3 L150.1,528.3 L150.5,528.3 L150.9,528.3 L151.2,528.3 L151.6,528.3 L151.9,528.3 L152.3,528.3 L152.6,528.3 L153.0,528.3 L153.3,528.3 L153.7,528.3 L154.1,528.3 L154.4,528.3 L154.8,528.3 L155.1,528.3 L155.5,528.3 L155.8,528.3 L156.2,528.3 L156.5,528.4 L156.9,528.4 L157.3,528.4 L157.6,528.5 L158.0,528.5 L158.3,528.6 L158.7,528.7 L159.0,528.8 L159.4,528.9 L159.7,529.0 L160.1,529.1 L160.5,529.2 L160.8,529.3 L161.2,529.4 L161.5,529.6 L161.9,529.7 L162.2,529.8 L162.6,530.0 L162.9,530.1 L163.3,530.3 L163.7,530.4 L164.0,530.5 L164.4,530.7 L164.7,530.8 L165.1,531.0 L165.4,531.1 L165.8,531.2 L166.1,531.4 L166.5,531.5 L166.9,531.6 L167.2,531.7 L167.6,531.9 L167.9,532.0 L168.3,532.1 L168.6,532.2 L169.0,532.3 L169.3,532.4 L169.7,532.5 L170.1,532.6 L170.4,532.9 L170.8,533.2 L171.1,533.4 L171.5,533.7 L171.8,534.0 L172.2,534.3 L172.5,534.5 L172.9,534.8 L173.3,535.1 L173.6,535.3 L179.3,536.4 L185.0,537.5 L190.6,538.7 L196.3,539.8 L202.0,540.9 L207.7,542.1 L213.3,543.2 L219.0,544.3 L224.7,545.5 L230.4,546.6 L236.0,547.8 L241.7,548.9 M62.5,548.4 L68.2,547.3 L73.8,546.1 L79.5,544.9 L85.2,543.8 L90.9,542.6 L96.5,541.5 L102.2,540.3 L107.9,539.2 L113.6,538.0 L119.2,536.9 L124.9,535.7 L130.6,534.5 L130.9,534.4 L131.3,534.3 L131.7,534.2 L132.0,534.1 L132.4,534.0 L132.7,533.7 L133.1,533.4 L133.4,533.1 L133.8,532.8 L134.1,532.6 L134.5,532.4 L134.9,532.1 L135.2,531.9 L135.6,531.7 L135.9,531.5 L136.3,531.3 L136.6,531.1 L137.0,530.9 L137.3,530.7 L137.7,530.6 L138.1,530.4 L138.4,530.2 L138.8,530.1 L139.1,529.9 L139.5,529.7 L139.8,529.6 L140.2,529.4 L140.5,529.2 L140.9,529.1 L141.3,528.9 L141.6,528.7 L142.0,528.6 L142.3,528.4 L142.7,528.3 L143.0,528.1 L143.4,528.0 L143.7,527.9 L144.1,527.8 L144.5,527.7 L144.8,527.6 L145.2,527.6 L145.5,527.7 L145.9,527.7 L146.2,527.8 L146.6,527.9 L146.9,527.9 L147.3,528.0 L147.7,528.0 L148.0,528.1 L148.4,528.1 L148.7,528.1 L149.1,528.2 L149.4,528.2 L149.8,528.2 L150.1,528.2 L150.5,528.3 L150.9,528.3 L151.2,528.3 L151.6,528.3 L151.9,528.3 L152.3,528.3 L152.6,528.3 L153.0,528.3 L153.3,528.3 L153.7,528.3 L154.1,528.2 L154.4,528.2 L154.8,528.2 L155.1,528.2 L155.5,528.1 L155.8,528.1 L156.2,528.1 L156.5,528.0 L156.9,528.0 L157.3,527.9 L157.6,527.9 L158.0,527.8 L158.3,527.7 L158.7,527.7 L159.0,527.6 L159.4,527.6 L159.7,527.7 L160.1,527.8 L160.5,527.9 L160.8,528.0 L161.2,528.1 L161.5,528.3 L161.9,528.4 L162.2,528.6 L162.6,528.7 L162.9,528.9 L163.3,529.1 L163.7,529.2 L164.0,529.4 L164.4,529.6 L164.7,529.7 L165.1,529.9 L165.4,530.1 L165.8,530.2 L166.1,530.4 L166.5,530.6 L166.9,530.7 L167.2,530.9 L167.6,531.1 L167.9,531.3 L168.3,531.5 L168.6,531.7 L169.0,531.9 L169.3,532.1 L169.7,532.4 L170.1,532.6 L170.4,532.8 L170.8,533.1 L171.1,533.4 L171.5,533.7 L171.8,534.0 L172.2,534.1 L172.5,534.2 L172.9,534.3 L173.3,534.4 L173.6,534.5 L179.3,535.7 L185.0,536.9 L190.6,538.0 L196.3,539.2 L202.0,540.3 L207.7,541.5 L213.3,542.6 L219.0,543.8 L224.7,544.9 L230.4,546.1 L236.0,547.3 L241.7,548.4 M62.5,547.9 L68.2,546.7 L73.8,545.6 L79.5,544.4 L85.2,543.2 L90.9,542.1 L96.5,540.9 L102.2,539.7 L107.9,538.6 L113.6,537.4 L119.2,536.2 L124.9,534.9 L130.6,533.6 L130.9,533.5 L131.3,533.4 L131.7,533.3 L132.0,533.2 L132.4,533.1 L132.7,533.0 L133.1,532.9 L133.4,532.8 L133.8,532.7 L134.1,532.5 L134.5,532.2 L134.9,532.0 L135.2,531.7 L135.6,531.5 L135.9,531.2 L136.3,531.0 L136.6,530.8 L137.0,530.5 L137.3,530.3 L137.7,530.1 L138.1,529.9 L138.4,529.6 L138.8,529.4 L139.1,529.2 L139.5,529.0 L139.8,528.8 L140.2,528.6 L140.5,528.4 L140.9,528.3 L141.3,528.1 L141.6,528.0 L142.0,527.8 L142.3,527.7 L142.7,527.6 L143.0,527.5 L143.4,527.4 L143.7,527.4 L144.1,527.4 L144.5,527.5 L144.8,527.6 L145.2,527.5 L145.5,527.4 L145.9,527.4 L146.2,527.3 L146.6,527.2 L146.9,527.1 L147.3,527.1 L147.7,527.0 L148.0,526.9 L148.4,526.8 L148.7,526.7 L149.1,526.6 L149.4,526.6 L149.8,526.5 L150.1,526.4 L150.5,526.4 L150.9,526.3 L151.2,526.3 L151.6,526.3 L151.9,526.3 L152.3,526.3 L152.6,526.3 L153.0,526.3 L153.3,526.3 L153.7,526.4 L154.1,526.4 L154.4,526.5 L154.8,526.6 L155.1,526.6 L155.5,526.7 L155.8,526.8 L156.2,526.9 L156.5,527.0 L156.9,527.1 L157.3,527.1 L157.6,527.2 L158.0,527.3 L158.3,527.4 L158.7,527.4 L159.0,527.5 L159.4,527.6 L159.7,527.5 L160.1,527.4 L160.5,527.4 L160.8,527.4 L161.2,527.5 L161.5,527.6 L161.9,527.7 L162.2,527.8 L162.6,528.0 L162.9,528.1 L163.3,528.3 L163.7,528.4 L164.0,528.6 L164.4,528.8 L164.7,529.0 L165.1,529.2 L165.4,529.4 L165.8,529.6 L166.1,529.9 L166.5,530.1 L166.9,530.3 L167.2,530.5 L167.6,530.8 L167.9,531.0 L168.3,531.2 L168.6,531.5 L169.0,531.7 L169.3,532.0 L169.7,532.2 L170.1,532.5 L170.4,532.7 L170.8,532.8 L171.1,532.9 L171.5,533.0 L171.8,533.1 L172.2,533.2 L172.5,533.3 L172.9,533.4 L173.3,533.5 L173.6,533.6 L179.3,534.9 L185.0,536.2 L190.6,537.4 L196.3,538.6 L202.0,539.7 L207.7,540.9 L213.3,542.1 L219.0,543.2 L224.7,544.4 L230.4,545.6 L236.0,546.7 L241.7,547.9 M62.5,547.3 L68.2,546.2 L73.8,545.0 L79.5,543.8 L85.2,542.6 L90.9,541.5 L96.5,540.3 L102.2,539.1 L107.9,537.9 L113.6,536.7 L119.2,535.4 L124.9,534.1 L130.6,532.6 L130.9,532.5 L131.3,532.4 L131.7,532.3 L132.0,532.2 L132.4,532.0 L132.7,531.9 L133.1,531.8 L133.4,531.7 L133.8,531.5 L134.1,531.4 L134.5,531.3 L134.9,531.1 L135.2,530.9 L135.6,530.7 L135.9,530.5 L136.3,530.3 L136.6,530.1 L137.0,529.9 L137.3,529.6 L137.7,529.4 L138.1,529.2 L138.4,528.9 L138.8,528.7 L139.1,528.5 L139.5,528.3 L139.8,528.1 L140.2,527.9 L140.5,527.7 L140.9,527.5 L141.3,527.4 L141.6,527.3 L142.0,527.2 L142.3,527.1 L142.7,527.1 L143.0,527.2 L143.4,527.3 L143.7,527.4 L144.1,527.3 L144.5,527.3 L144.8,527.2 L145.2,527.2 L145.5,527.1 L145.9,527.1 L146.2,527.1 L146.6,527.0 L146.9,527.0 L147.3,526.9 L147.7,526.9 L148.0,526.8 L148.4,526.7 L148.7,526.7 L149.1,526.6 L149.4,526.5 L149.8,526.5 L150.1,526.4 L150.5,526.4 L150.9,526.3 L151.2,526.3 L151.6,526.3 L151.9,526.3 L152.3,526.3 L152.6,526.3 L153.0,526.3 L153.3,526.3 L153.7,526.4 L154.1,526.4 L154.4,526.5 L154.8,526.5 L155.1,526.6 L155.5,526.7 L155.8,526.7 L156.2,526.8 L156.5,526.9 L156.9,526.9 L157.3,527.0 L157.6,527.0 L158.0,527.1 L158.3,527.1 L158.7,527.1 L159.0,527.2 L159.4,527.2 L159.7,527.3 L160.1,527.3 L160.5,527.4 L160.8,527.3 L161.2,527.2 L161.5,527.1 L161.9,527.1 L162.2,527.2 L162.6,527.3 L162.9,527.4 L163.3,527.5 L163.7,527.7 L164.0,527.9 L164.4,528.1 L164.7,528.3 L165.1,528.5 L165.4,528.7 L165.8,528.9 L166.1,529.2 L166.5,529.4 L166.9,529.6 L167.2,529.9 L167.6,530.1 L167.9,530.3 L168.3,530.5 L168.6,530.7 L169.0,530.9 L169.3,531.1 L169.7,531.3 L170.1,531.4 L170.4,531.5 L170.8,531.7 L171.1,531.8 L171.5,531.9 L171.8,532.0 L172.2,532.2 L172.5,532.3 L172.9,532.4 L173.3,532.5 L173.6,532.6 L179.3,534.1 L185.0,535.4 L190.6,536.7 L196.3,537.9 L202.0,539.1 L207.7,540.3 L213.3,541.5 L219.0,542.6 L224.7,543.8 L230.4,545.0 L236.0,546.2 L241.7,547.3 M62.5,546.8 L68.2,545.6 L73.8,544.4 L79.5,543.2 L85.2,542.0 L90.9,540.8 L96.5,539.6 L102.2,538.4 L107.9,537.2 L113.6,535.9 L119.2,534.6 L124.9,533.1 L130.6,531.3 L130.9,531.2 L131.3,531.0 L131.7,530.9 L132.0,530.7 L132.4,530.6 L132.7,530.4 L133.1,530.2 L133.4,530.0 L133.8,529.8 L134.1,529.6 L134.5,529.4 L134.9,529.2 L135.2,528.9 L135.6,528.7 L135.9,528.4 L136.3,528.2 L136.6,527.9 L137.0,527.6 L137.3,527.3 L137.7,527.0 L138.1,526.8 L138.4,526.5 L138.8,526.4 L139.1,526.4 L139.5,526.5 L139.8,526.6 L140.2,526.6 L140.5,526.7 L140.9,526.8 L141.3,526.9 L141.6,526.9 L142.0,527.0 L142.3,527.0 L142.7,526.9 L143.0,526.9 L143.4,526.9 L143.7,526.9 L144.1,527.0 L144.5,527.0 L144.8,527.0 L145.2,527.0 L145.5,526.9 L145.9,526.9 L146.2,526.8 L146.6,526.7 L146.9,526.6 L147.3,526.5 L147.7,526.4 L148.0,526.3 L148.4,526.1 L148.7,526.0 L149.1,525.8 L149.4,525.6 L149.8,525.4 L150.1,525.3 L150.5,525.1 L150.9,525.0 L151.2,524.9 L151.6,524.8 L151.9,524.7 L152.3,524.7 L152.6,524.8 L153.0,524.9 L153.3,525.0 L153.7,525.1 L154.1,525.3 L154.4,525.4 L154.8,525.6 L155.1,525.8 L155.5,526.0 L155.8,526.1 L156.2,526.3 L156.5,526.4 L156.9,526.5 L157.3,526.6 L157.6,526.7 L158.0,526.8 L158.3,526.9 L158.7,526.9 L159.0,527.0 L159.4,527.0 L159.7,527.0 L160.1,527.0 L160.5,526.9 L160.8,526.9 L161.2,526.9 L161.5,526.9 L161.9,527.0 L162.2,527.0 L162.6,526.9 L162.9,526.9 L163.3,526.8 L163.7,526.7 L164.0,526.6 L164.4,526.6 L164.7,526.5 L165.1,526.4 L165.4,526.4 L165.8,526.5 L166.1,526.8 L166.5,527.0 L166.9,527.3 L167.2,527.6 L167.6,527.9 L167.9,528.2 L168.3,528.4 L168.6,528.7 L169.0,528.9 L169.3,529.2 L169.7,529.4 L170.1,529.6 L170.4,529.8 L170.8,530.0 L171.1,530.2 L171.5,530.4 L171.8,530.6 L172.2,530.7 L172.5,530.9 L172.9,531.0 L173.3,531.2 L173.6,531.3 L179.3,533.1 L185.0,534.6 L190.6,535.9 L196.3,537.2 L202.0,538.4 L207.7,539.6 L213.3,540.8 L219.0,542.0 L224.7,543.2 L230.4,544.4 L236.0,545.6 L241.7,546.8 M62.5,512.2 L68.2,513.4 L73.8,514.5 L79.5,515.6 L85.2,516.8 L90.9,517.9 L96.5,519.0 L102.2,520.1 L107.9,521.2 L113.6,522.2 L119.2,523.2 L124.9,524.1 L130.6,524.9 L130.9,525.0 L131.3,525.0 L131.7,525.1 L132.0,525.1 L132.4,525.2 L132.7,525.2 L133.1,525.3 L133.4,525.3 L133.8,525.4 L134.1,525.4 L134.5,525.5 L134.9,525.6 L135.2,525.6 L135.6,525.7 L135.9,525.8 L136.3,525.8 L136.6,525.9 L137.0,526.0 L137.3,526.1 L137.7,526.1 L138.1,526.2 L138.4,526.3 L138.8,526.2 L139.1,526.3 L139.5,526.4 L139.8,526.4 L140.2,526.5 L140.5,526.5 L140.9,526.6 L141.3,526.6 L141.6,526.7 L142.0,526.7 L142.3,526.8 L142.7,526.8 L143.0,526.9 L143.4,526.8 L143.7,526.7 L144.1,526.6 L144.5,526.5 L144.8,526.5 L145.2,526.4 L145.5,526.3 L145.9,526.2 L146.2,526.1 L146.6,526.0 L146.9,525.9 L147.3,525.8 L147.7,525.6 L148.0,525.5 L148.4,525.4 L148.7,525.2 L149.1,525.1 L149.4,525.0 L149.8,524.8 L150.1,524.7 L150.5,524.6 L150.9,524.5 L151.2,524.5 L151.6,524.4 L151.9,524.4 L152.3,524.4 L152.6,524.4 L153.0,524.5 L153.3,524.5 L153.7,524.6 L154.1,524.7 L154.4,524.8 L154.8,525.0 L155.1,525.1 L155.5,525.2 L155.8,525.4 L156.2,525.5 L156.5,525.6 L156.9,525.8 L157.3,525.9 L157.6,526.0 L158.0,526.1 L158.3,526.2 L158.7,526.3 L159.0,526.4 L159.4,526.5 L159.7,526.5 L160.1,526.6 L160.5,526.7 L160.8,526.8 L161.2,526.9 L161.5,526.8 L161.9,526.8 L162.2,526.7 L162.6,526.7 L162.9,526.6 L163.3,526.6 L163.7,526.5 L164.0,526.5 L164.4,526.4 L164.7,526.4 L165.1,526.3 L165.4,526.2 L165.8,526.3 L166.1,526.2 L166.5,526.1 L166.9,526.1 L167.2,526.0 L167.6,525.9 L167.9,525.8 L168.3,525.8 L168.6,525.7 L169.0,525.6 L169.3,525.6 L169.7,525.5 L170.1,525.4 L170.4,525.4 L170.8,525.3 L171.1,525.3 L171.5,525.2 L171.8,525.2 L172.2,525.1 L172.5,525.1 L172.9,525.0 L173.3,525.0 L173.6,524.9 L179.3,524.1 L185.0,523.2 L190.6,522.2 L196.3,521.2 L202.0,520.1 L207.7,519.0 L213.3,517.9 L219.0,516.8 L224.7,515.6 L230.4,514.5 L236.0,513.4 L241.7,512.2 M62.5,511.9 L68.2,513.0 L73.8,514.2 L79.5,515.3 L85.2,516.4 L90.9,517.5 L96.5,518.7 L102.2,519.8 L107.9,520.9 L113.6,521.9 L119.2,523.0 L124.9,524.0 L130.6,524.9 L130.9,524.9 L131.3,525.0 L131.7,525.1 L132.0,525.1 L132.4,525.2 L132.7,525.2 L133.1,525.3 L133.4,525.3 L133.8,525.4 L134.1,525.4 L134.5,525.5 L134.9,525.6 L135.2,525.6 L135.6,525.7 L135.9,525.7 L136.3,525.8 L136.6,525.9 L137.0,525.9 L137.3,526.0 L137.7,526.1 L138.1,526.1 L138.4,526.2 L138.8,526.2 L139.1,526.2 L139.5,526.2 L139.8,526.2 L140.2,526.3 L140.5,526.3 L140.9,526.3 L141.3,526.4 L141.6,526.4 L142.0,526.4 L142.3,526.4 L142.7,526.4 L143.0,526.4 L143.4,526.4 L143.7,526.3 L144.1,526.3 L144.5,526.2 L144.8,526.1 L145.2,526.0 L145.5,525.9 L145.9,525.8 L146.2,525.6 L146.6,525.5 L146.9,525.3 L147.3,525.2 L147.7,525.0 L148.0,524.9 L148.4,524.8 L148.7,524.6 L149.1,524.5 L149.4,524.4 L149.8,524.4 L150.1,524.3 L150.5,524.2 L150.9,524.2 L151.2,524.2 L151.6,524.2 L151.9,524.2 L152.3,524.2 L152.6,524.2 L153.0,524.2 L153.3,524.2 L153.7,524.2 L154.1,524.3 L154.4,524.4 L154.8,524.4 L155.1,524.5 L155.5,524.6 L155.8,524.8 L156.2,524.9 L156.5,525.0 L156.9,525.2 L157.3,525.3 L157.6,525.5 L158.0,525.6 L158.3,525.8 L158.7,525.9 L159.0,526.0 L159.4,526.1 L159.7,526.2 L160.1,526.3 L160.5,526.3 L160.8,526.4 L161.2,526.4 L161.5,526.4 L161.9,526.4 L162.2,526.4 L162.6,526.4 L162.9,526.4 L163.3,526.3 L163.7,526.3 L164.0,526.3 L164.4,526.2 L164.7,526.2 L165.1,526.2 L165.4,526.2 L165.8,526.2 L166.1,526.1 L166.5,526.1 L166.9,526.0 L167.2,525.9 L167.6,525.9 L167.9,525.8 L168.3,525.7 L168.6,525.7 L169.0,525.6 L169.3,525.6 L169.7,525.5 L170.1,525.4 L170.4,525.4 L170.8,525.3 L171.1,525.3 L171.5,525.2 L171.8,525.2 L172.2,525.1 L172.5,525.1 L172.9,525.0 L173.3,524.9 L173.6,524.9 L179.3,524.0 L185.0,523.0 L190.6,521.9 L196.3,520.9 L202.0,519.8 L207.7,518.7 L213.3,517.5 L219.0,516.4 L224.7,515.3 L230.4,514.2 L236.0,513.0 L241.7,511.9 M62.5,511.5 L68.2,512.7 L73.8,513.8 L79.5,514.9 L85.2,516.1 L90.9,517.2 L96.5,518.4 L102.2,519.5 L107.9,520.6 L113.6,521.7 L119.2,522.8 L124.9,523.8 L130.6,524.8 L130.9,524.8 L131.3,524.9 L131.7,524.9 L132.0,525.0 L132.4,525.0 L132.7,525.1 L133.1,525.2 L133.4,525.2 L133.8,525.3 L134.1,525.4 L134.5,525.4 L134.9,525.5 L135.2,525.6 L135.6,525.6 L135.9,525.7 L136.3,525.7 L136.6,525.8 L137.0,525.8 L137.3,525.9 L137.7,525.9 L138.1,526.0 L138.4,526.0 L138.8,526.1 L139.1,526.0 L139.5,525.9 L139.8,525.9 L140.2,526.0 L140.5,526.0 L140.9,525.9 L141.3,525.9 L141.6,525.9 L142.0,525.9 L142.3,525.8 L142.7,525.7 L143.0,525.6 L143.4,525.5 L143.7,525.4 L144.1,525.3 L144.5,525.2 L144.8,525.0 L145.2,524.9 L145.5,524.7 L145.9,524.6 L146.2,524.5 L146.6,524.3 L146.9,524.2 L147.3,524.1 L147.7,524.1 L148.0,524.0 L148.4,524.0 L148.7,523.9 L149.1,523.9 L149.4,523.9 L149.8,523.9 L150.1,523.8 L150.5,523.8 L150.9,523.7 L151.2,523.6 L151.6,523.5 L151.9,523.4 L152.3,523.4 L152.6,523.5 L153.0,523.6 L153.3,523.7 L153.7,523.8 L154.1,523.8 L154.4,523.9 L154.8,523.9 L155.1,523.9 L155.5,523.9 L155.8,524.0 L156.2,524.0 L156.5,524.1 L156.9,524.1 L157.3,524.2 L157.6,524.3 L158.0,524.5 L158.3,524.6 L158.7,524.7 L159.0,524.9 L159.4,525.0 L159.7,525.2 L160.1,525.3 L160.5,525.4 L160.8,525.5 L161.2,525.6 L161.5,525.7 L161.9,525.8 L162.2,525.9 L162.6,525.9 L162.9,525.9 L163.3,525.9 L163.7,526.0 L164.0,526.0 L164.4,525.9 L164.7,525.9 L165.1,526.0 L165.4,526.1 L165.8,526.0 L166.1,526.0 L166.5,525.9 L166.9,525.9 L167.2,525.8 L167.6,525.8 L167.9,525.7 L168.3,525.7 L168.6,525.6 L169.0,525.6 L169.3,525.5 L169.7,525.4 L170.1,525.4 L170.4,525.3 L170.8,525.2 L171.1,525.2 L171.5,525.1 L171.8,525.0 L172.2,525.0 L172.5,524.9 L172.9,524.9 L173.3,524.8 L173.6,524.8 L179.3,523.8 L185.0,522.8 L190.6,521.7 L196.3,520.6 L202.0,519.5 L207.7,518.4 L213.3,517.2 L219.0,516.1 L224.7,514.9 L230.4,513.8 L236.0,512.7 L241.7,511.5 M62.5,511.2 L68.2,512.3 L73.8,513.5 L79.5,514.6 L85.2,515.8 L90.9,516.9 L96.5,518.1 L102.2,519.2 L107.9,520.3 L113.6,521.5 L119.2,522.6 L124.9,523.7 L130.6,524.7 L130.9,524.8 L131.3,524.9 L131.7,524.9 L132.0,525.0 L132.4,525.0 L132.7,525.1 L133.1,525.1 L133.4,525.2 L133.8,525.3 L134.1,525.3 L134.5,525.4 L134.9,525.4 L135.2,525.5 L135.6,525.5 L135.9,525.6 L136.3,525.6 L136.6,525.7 L137.0,525.7 L137.3,525.8 L137.7,525.8 L138.1,525.8 L138.4,525.9 L138.8,525.9 L139.1,525.9 L139.5,525.8 L139.8,525.7 L140.2,525.6 L140.5,525.5 L140.9,525.5 L141.3,525.4 L141.6,525.3 L142.0,525.2 L142.3,525.1 L142.7,524.9 L143.0,524.8 L143.4,524.7 L143.7,524.5 L144.1,524.4 L144.5,524.3 L144.8,524.2 L145.2,524.1 L145.5,524.1 L145.9,524.0 L146.2,524.0 L146.6,523.9 L146.9,523.9 L147.3,523.9 L147.7,523.9 L148.0,523.9 L148.4,523.8 L148.7,523.8 L149.1,523.8 L149.4,523.7 L149.8,523.7 L150.1,523.6 L150.5,523.6 L150.9,523.5 L151.2,523.4 L151.6,523.3 L151.9,523.2 L152.3,523.2 L152.6,523.3 L153.0,523.4 L153.3,523.5 L153.7,523.6 L154.1,523.6 L154.4,523.7 L154.8,523.7 L155.1,523.8 L155.5,523.8 L155.8,523.8 L156.2,523.9 L156.5,523.9 L156.9,523.9 L157.3,523.9 L157.6,523.9 L158.0,524.0 L158.3,524.0 L158.7,524.1 L159.0,524.1 L159.4,524.2 L159.7,524.3 L160.1,524.4 L160.5,524.5 L160.8,524.7 L161.2,524.8 L161.5,524.9 L161.9,525.1 L162.2,525.2 L162.6,525.3 L162.9,525.4 L163.3,525.5 L163.7,525.5 L164.0,525.6 L164.4,525.7 L164.7,525.8 L165.1,525.9 L165.4,525.9 L165.8,525.9 L166.1,525.8 L166.5,525.8 L166.9,525.8 L167.2,525.7 L167.6,525.7 L167.9,525.6 L168.3,525.6 L168.6,525.5 L169.0,525.5 L169.3,525.4 L169.7,525.4 L170.1,525.3 L170.4,525.3 L170.8,525.2 L171.1,525.1 L171.5,525.1 L171.8,525.0 L172.2,525.0 L172.5,524.9 L172.9,524.9 L173.3,524.8 L173.6,524.7 L179.3,523.7 L185.0,522.6 L190.6,521.5 L196.3,520.3 L202.0,519.2 L207.7,518.1 L213.3,516.9 L219.0,515.8 L224.7,514.6 L230.4,513.5 L236.0,512.3 L241.7,511.2 M62.5,510.8 L68.2,512.0 L73.8,513.1 L79.5,514.3 L85.2,515.5 L90.9,516.6 L96.5,517.8 L102.2,518.9 L107.9,520.1 L113.6,521.3 L119.2,522.4 L124.9,523.5 L130.6,524.7 L130.9,524.7 L131.3,524.8 L131.7,524.9 L132.0,524.9 L132.4,525.0 L132.7,525.0 L133.1,525.1 L133.4,525.2 L133.8,525.2 L134.1,525.3 L134.5,525.3 L134.9,525.3 L135.2,525.4 L135.6,525.4 L135.9,525.4 L136.3,525.5 L136.6,525.5 L137.0,525.5 L137.3,525.5 L137.7,525.5 L138.1,525.5 L138.4,525.5 L138.8,525.5 L139.1,525.4 L139.5,525.2 L139.8,525.0 L140.2,524.7 L140.5,524.4 L140.9,524.2 L141.3,524.1 L141.6,523.9 L142.0,523.7 L142.3,523.5 L142.7,523.2 L143.0,523.0 L143.4,522.8 L143.7,522.6 L144.1,522.4 L144.5,522.2 L144.8,522.1 L145.2,522.0 L145.5,521.9 L145.9,521.9 L146.2,521.9 L146.6,521.9 L146.9,521.9 L147.3,521.9 L147.7,521.9 L148.0,522.0 L148.4,522.1 L148.7,522.1 L149.1,522.2 L149.4,522.3 L149.8,522.4 L150.1,522.6 L150.5,522.7 L150.9,522.8 L151.2,523.0 L151.6,523.1 L151.9,523.2 L152.3,523.2 L152.6,523.1 L153.0,523.0 L153.3,522.8 L153.7,522.7 L154.1,522.6 L154.4,522.4 L154.8,522.3 L155.1,522.2 L155.5,522.1 L155.8,522.1 L156.2,522.0 L156.5,521.9 L156.9,521.9 L157.3,521.9 L157.6,521.9 L158.0,521.9 L158.3,521.9 L158.7,521.9 L159.0,522.0 L159.4,522.1 L159.7,522.2 L160.1,522.4 L160.5,522.6 L160.8,522.8 L161.2,523.0 L161.5,523.2 L161.9,523.5 L162.2,523.7 L162.6,523.9 L162.9,524.1 L163.3,524.2 L163.7,524.4 L164.0,524.7 L164.4,525.0 L164.7,525.2 L165.1,525.4 L165.4,525.5 L165.8,525.5 L166.1,525.5 L166.5,525.5 L166.9,525.5 L167.2,525.5 L167.6,525.5 L167.9,525.5 L168.3,525.4 L168.6,525.4 L169.0,525.4 L169.3,525.3 L169.7,525.3 L170.1,525.3 L170.4,525.2 L170.8,525.2 L171.1,525.1 L171.5,525.0 L171.8,525.0 L172.2,524.9 L172.5,524.9 L172.9,524.8 L173.3,524.7 L173.6,524.7 L179.3,523.5 L185.0,522.4 L190.6,521.3 L196.3,520.1 L202.0,518.9 L207.7,517.8 L213.3,516.6 L219.0,515.5 L224.7,514.3 L230.4,513.1 L236.0,512.0 L241.7,510.8 M62.5,510.5 L68.2,511.6 L73.8,512.8 L79.5,514.0 L85.2,515.2 L90.9,516.3 L96.5,517.5 L102.2,518.7 L107.9,519.9 L113.6,521.0 L119.2,522.2 L124.9,523.4 L130.6,524.6 L130.9,524.7 L131.3,524.8 L131.7,524.8 L132.0,524.9 L132.4,525.0 L132.7,525.0 L133.1,525.1 L133.4,525.1 L133.8,525.1 L134.1,525.1 L134.5,525.2 L134.9,525.2 L135.2,525.2 L135.6,525.2 L135.9,525.2 L136.3,525.2 L136.6,525.2 L137.0,525.2 L137.3,525.1 L137.7,525.1 L138.1,525.1 L138.4,525.0 L138.8,524.9 L139.1,524.9 L139.5,524.8 L139.8,524.7 L140.2,524.5 L140.5,524.4 L140.9,524.1 L141.3,523.8 L141.6,523.6 L142.0,523.3 L142.3,523.0 L142.7,522.8 L143.0,522.6 L143.4,522.5 L143.7,522.3 L144.1,522.3 L144.5,522.2 L144.8,522.1 L145.2,522.0 L145.5,521.9 L145.9,521.9 L146.2,521.9 L146.6,521.8 L146.9,521.9 L147.3,521.9 L147.7,521.9 L148.0,522.0 L148.4,522.1 L148.7,522.1 L149.1,522.2 L149.4,522.3 L149.8,522.4 L150.1,522.5 L150.5,522.7 L150.9,522.8 L151.2,522.9 L151.6,523.0 L151.9,523.1 L152.3,523.1 L152.6,523.0 L153.0,522.9 L153.3,522.8 L153.7,522.7 L154.1,522.5 L154.4,522.4 L154.8,522.3 L155.1,522.2 L155.5,522.1 L155.8,522.1 L156.2,522.0 L156.5,521.9 L156.9,521.9 L157.3,521.9 L157.6,521.8 L158.0,521.9 L158.3,521.9 L158.7,521.9 L159.0,522.0 L159.4,522.1 L159.7,522.2 L160.1,522.3 L160.5,522.3 L160.8,522.5 L161.2,522.6 L161.5,522.8 L161.9,523.0 L162.2,523.3 L162.6,523.6 L162.9,523.8 L163.3,524.1 L163.7,524.4 L164.0,524.5 L164.4,524.7 L164.7,524.8 L165.1,524.9 L165.4,524.9 L165.8,525.0 L166.1,525.1 L166.5,525.1 L166.9,525.1 L167.2,525.2 L167.6,525.2 L167.9,525.2 L168.3,525.2 L168.6,525.2 L169.0,525.2 L169.3,525.2 L169.7,525.2 L170.1,525.1 L170.4,525.1 L170.8,525.1 L171.1,525.1 L171.5,525.0 L171.8,525.0 L172.2,524.9 L172.5,524.8 L172.9,524.8 L173.3,524.7 L173.6,524.6 L179.3,523.4 L185.0,522.2 L190.6,521.0 L196.3,519.9 L202.0,518.7 L207.7,517.5 L213.3,516.3 L219.0,515.2 L224.7,514.0 L230.4,512.8 L236.0,511.6 L241.7,510.5 M62.5,475.0 L68.2,478.5 L73.8,481.9 L79.5,485.4 L85.2,488.8 L90.9,492.3 L96.5,495.7 L102.2,499.1 L107.9,502.5 L113.6,505.9 L119.2,509.3 L124.9,512.6 L130.6,515.8 L130.9,516.0 L131.3,516.2 L131.7,516.4 L132.0,516.6 L132.4,516.7 L132.7,516.9 L133.1,517.1 L133.4,517.3 L133.8,517.5 L134.1,517.7 L134.5,517.9 L134.9,518.1 L135.2,518.2 L135.6,518.4 L135.9,518.6 L136.3,518.8 L136.6,518.9 L137.0,519.1 L137.3,519.3 L137.7,519.4 L138.1,519.6 L138.4,519.8 L138.8,519.9 L139.1,520.1 L139.5,520.2 L139.8,520.3 L140.2,520.5 L140.5,520.6 L140.9,520.7 L141.3,520.8 L141.6,520.9 L142.0,520.9 L142.3,520.9 L142.7,520.9 L143.0,520.9 L143.4,520.7 L143.7,520.6 L144.1,520.7 L144.5,520.7 L144.8,520.6 L145.2,520.5 L145.5,520.6 L145.9,520.6 L146.2,520.6 L146.6,520.6 L146.9,520.7 L147.3,520.7 L147.7,520.8 L148.0,520.9 L148.4,521.0 L148.7,521.2 L149.1,521.3 L149.4,521.5 L149.8,521.6 L150.1,521.7 L150.5,521.8 L150.9,521.8 L151.2,521.8 L151.6,521.8 L151.9,521.7 L152.3,521.7 L152.6,521.8 L153.0,521.8 L153.3,521.8 L153.7,521.8 L154.1,521.7 L154.4,521.6 L154.8,521.5 L155.1,521.3 L155.5,521.2 L155.8,521.0 L156.2,520.9 L156.5,520.8 L156.9,520.7 L157.3,520.7 L157.6,520.6 L158.0,520.6 L158.3,520.6 L158.7,520.6 L159.0,520.5 L159.4,520.6 L159.7,520.7 L160.1,520.7 L160.5,520.6 L160.8,520.7 L161.2,520.9 L161.5,520.9 L161.9,520.9 L162.2,520.9 L162.6,520.9 L162.9,520.8 L163.3,520.7 L163.7,520.6 L164.0,520.5 L164.4,520.3 L164.7,520.2 L165.1,520.1 L165.4,519.9 L165.8,519.8 L166.1,519.6 L166.5,519.4 L166.9,519.3 L167.2,519.1 L167.6,518.9 L167.9,518.8 L168.3,518.6 L168.6,518.4 L169.0,518.2 L169.3,518.1 L169.7,517.9 L170.1,517.7 L170.4,517.5 L170.8,517.3 L171.1,517.1 L171.5,516.9 L171.8,516.7 L172.2,516.6 L172.5,516.4 L172.9,516.2 L173.3,516.0 L173.6,515.8 L179.3,512.6 L185.0,509.3 L190.6,505.9 L196.3,502.5 L202.0,499.1 L207.7,495.7 L213.3,492.3 L219.0,488.8 L224.7,485.4 L230.4,481.9 L236.0,478.5 L241.7,475.0 M62.5,473.7 L68.2,477.2 L73.8,480.6 L79.5,484.1 L85.2,487.5 L90.9,491.0 L96.5,494.4 L102.2,497.8 L107.9,501.2 L113.6,504.6 L119.2,508.0 L124.9,511.3 L130.6,514.5 L130.9,514.7 L131.3,514.9 L131.7,515.1 L132.0,515.3 L132.4,515.5 L132.7,515.7 L133.1,515.9 L133.4,516.1 L133.8,516.2 L134.1,516.4 L134.5,516.6 L134.9,516.8 L135.2,517.0 L135.6,517.2 L135.9,517.4 L136.3,517.6 L136.6,517.7 L137.0,517.9 L137.3,518.1 L137.7,518.3 L138.1,518.4 L138.4,518.6 L138.8,518.8 L139.1,518.9 L139.5,519.1 L139.8,519.3 L140.2,519.4 L140.5,519.6 L140.9,519.7 L141.3,519.9 L141.6,520.0 L142.0,520.2 L142.3,520.3 L142.7,520.4 L143.0,520.5 L143.4,520.6 L143.7,520.6 L144.1,520.4 L144.5,520.4 L144.8,520.5 L145.2,520.5 L145.5,520.4 L145.9,520.4 L146.2,520.5 L146.6,520.5 L146.9,520.6 L147.3,520.7 L147.7,520.8 L148.0,520.9 L148.4,521.0 L148.7,521.0 L149.1,521.1 L149.4,521.1 L149.8,521.0 L150.1,520.9 L150.5,520.8 L150.9,521.0 L151.2,521.2 L151.6,521.4 L151.9,521.5 L152.3,521.5 L152.6,521.4 L153.0,521.2 L153.3,521.0 L153.7,520.8 L154.1,520.9 L154.4,521.0 L154.8,521.1 L155.1,521.1 L155.5,521.0 L155.8,521.0 L156.2,520.9 L156.5,520.8 L156.9,520.7 L157.3,520.6 L157.6,520.5 L158.0,520.5 L158.3,520.4 L158.7,520.4 L159.0,520.5 L159.4,520.5 L159.7,520.4 L160.1,520.4 L160.5,520.6 L160.8,520.6 L161.2,520.5 L161.5,520.4 L161.9,520.3 L162.2,520.2 L162.6,520.0 L162.9,519.9 L163.3,519.7 L163.7,519.6 L164.0,519.4 L164.4,519.3 L164.7,519.1 L165.1,518.9 L165.4,518.8 L165.8,518.6 L166.1,518.4 L166.5,518.3 L166.9,518.1 L167.2,517.9 L167.6,517.7 L167.9,517.6 L168.3,517.4 L168.6,517.2 L169.0,517.0 L169.3,516.8 L169.7,516.6 L170.1,516.4 L170.4,516.2 L170.8,516.1 L171.1,515.9 L171.5,515.7 L171.8,515.5 L172.2,515.3 L172.5,515.1 L172.9,514.9 L173.3,514.7 L173.6,514.5 L179.3,511.3 L185.0,508.0 L190.6,504.6 L196.3,501.2 L202.0,497.8 L207.7,494.4 L213.3,491.0 L219.0,487.5 L224.7,484.1 L230.4,480.6 L236.0,477.2 L241.7,473.7 M62.5,472.4 L68.2,475.9 L73.8,479.3 L79.5,482.8 L85.2,486.2 L90.9,489.7 L96.5,493.1 L102.2,496.5 L107.9,500.0 L113.6,503.4 L119.2,506.7 L124.9,510.1 L130.6,513.3 L130.9,513.5 L131.3,513.7 L131.7,513.9 L132.0,514.1 L132.4,514.3 L132.7,514.5 L133.1,514.7 L133.4,514.9 L133.8,515.1 L134.1,515.3 L134.5,515.5 L134.9,515.7 L135.2,515.9 L135.6,516.1 L135.9,516.3 L136.3,516.5 L136.6,516.7 L137.0,516.9 L137.3,517.1 L137.7,517.2 L138.1,517.4 L138.4,517.6 L138.8,517.8 L139.1,518.0 L139.5,518.2 L139.8,518.3 L140.2,518.5 L140.5,518.7 L140.9,518.9 L141.3,519.0 L141.6,519.2 L142.0,519.3 L142.3,519.5 L142.7,519.7 L143.0,519.8 L143.4,519.9 L143.7,520.1 L144.1,520.1 L144.5,520.0 L144.8,519.9 L145.2,520.1 L145.5,520.1 L145.9,520.0 L146.2,520.1 L146.6,520.2 L146.9,520.2 L147.3,520.4 L147.7,520.5 L148.0,520.6 L148.4,520.5 L148.7,520.4 L149.1,520.3 L149.4,520.3 L149.8,520.4 L150.1,520.6 L150.5,520.8 L150.9,520.7 L151.2,520.5 L151.6,520.4 L151.9,520.3 L152.3,520.3 L152.6,520.4 L153.0,520.5 L153.3,520.7 L153.7,520.8 L154.1,520.6 L154.4,520.4 L154.8,520.3 L155.1,520.3 L155.5,520.4 L155.8,520.5 L156.2,520.6 L156.5,520.5 L156.9,520.4 L157.3,520.2 L157.6,520.2 L158.0,520.1 L158.3,520.0 L158.7,520.1 L159.0,520.1 L159.4,519.9 L159.7,520.0 L160.1,520.1 L160.5,520.1 L160.8,519.9 L161.2,519.8 L161.5,519.7 L161.9,519.5 L162.2,519.3 L162.6,519.2 L162.9,519.0 L163.3,518.9 L163.7,518.7 L164.0,518.5 L164.4,518.3 L164.7,518.2 L165.1,518.0 L165.4,517.8 L165.8,517.6 L166.1,517.4 L166.5,517.2 L166.9,517.1 L167.2,516.9 L167.6,516.7 L167.9,516.5 L168.3,516.3 L168.6,516.1 L169.0,515.9 L169.3,515.7 L169.7,515.5 L170.1,515.3 L170.4,515.1 L170.8,514.9 L171.1,514.7 L171.5,514.5 L171.8,514.3 L172.2,514.1 L172.5,513.9 L172.9,513.7 L173.3,513.5 L173.6,513.3 L179.3,510.1 L185.0,506.7 L190.6,503.4 L196.3,500.0 L202.0,496.5 L207.7,493.1 L213.3,489.7 L219.0,486.2 L224.7,482.8 L230.4,479.3 L236.0,475.9 L241.7,472.4 M62.5,471.1 L68.2,474.6 L73.8,478.1 L79.5,481.5 L85.2,485.0 L90.9,488.4 L96.5,491.9 L102.2,495.3 L107.9,498.8 L113.6,502.2 L119.2,505.6 L124.9,509.0 L130.6,512.3 L130.9,512.5 L131.3,512.7 L131.7,512.9 L132.0,513.1 L132.4,513.3 L132.7,513.5 L133.1,513.7 L133.4,513.9 L133.8,514.1 L134.1,514.3 L134.5,514.5 L134.9,514.7 L135.2,515.0 L135.6,515.2 L135.9,515.4 L136.3,515.6 L136.6,515.7 L137.0,515.9 L137.3,516.1 L137.7,516.3 L138.1,516.5 L138.4,516.7 L138.8,516.9 L139.1,517.1 L139.5,517.3 L139.8,517.5 L140.2,517.7 L140.5,517.9 L140.9,518.1 L141.3,518.2 L141.6,518.4 L142.0,518.6 L142.3,518.8 L142.7,519.0 L143.0,519.1 L143.4,519.3 L143.7,519.5 L144.1,519.6 L144.5,519.8 L144.8,519.7 L145.2,519.6 L145.5,519.8 L145.9,520.0 L146.2,519.8 L146.6,520.0 L146.9,520.2 L147.3,520.1 L147.7,519.9 L148.0,519.7 L148.4,519.5 L148.7,519.4 L149.1,519.5 L149.4,519.6 L149.8,519.6 L150.1,519.4 L150.5,519.2 L150.9,519.1 L151.2,519.1 L151.6,519.3 L151.9,519.4 L152.3,519.4 L152.6,519.3 L153.0,519.1 L153.3,519.1 L153.7,519.2 L154.1,519.4 L154.4,519.6 L154.8,519.6 L155.1,519.5 L155.5,519.4 L155.8,519.5 L156.2,519.7 L156.5,519.9 L156.9,520.1 L157.3,520.2 L157.6,520.0 L158.0,519.8 L158.3,520.0 L158.7,519.8 L159.0,519.6 L159.4,519.7 L159.7,519.8 L160.1,519.6 L160.5,519.5 L160.8,519.3 L161.2,519.1 L161.5,519.0 L161.9,518.8 L162.2,518.6 L162.6,518.4 L162.9,518.2 L163.3,518.1 L163.7,517.9 L164.0,517.7 L164.4,517.5 L164.7,517.3 L165.1,517.1 L165.4,516.9 L165.8,516.7 L166.1,516.5 L166.5,516.3 L166.9,516.1 L167.2,515.9 L167.6,515.7 L167.9,515.6 L168.3,515.4 L168.6,515.2 L169.0,515.0 L169.3,514.7 L169.7,514.5 L170.1,514.3 L170.4,514.1 L170.8,513.9 L171.1,513.7 L171.5,513.5 L171.8,513.3 L172.2,513.1 L172.5,512.9 L172.9,512.7 L173.3,512.5 L173.6,512.3 L179.3,509.0 L185.0,505.6 L190.6,502.2 L196.3,498.8 L202.0,495.3 L207.7,491.9 L213.3,488.4 L219.0,485.0 L224.7,481.5 L230.4,478.1 L236.0,474.6 L241.7,471.1 M62.5,469.9 L68.2,473.4 L73.8,476.9 L79.5,480.3 L85.2,483.8 L90.9,487.3 L96.5,490.7 L102.2,494.2 L107.9,497.6 L113.6,501.1 L119.2,504.5 L124.9,507.9 L130.6,511.3 L130.9,511.5 L131.3,511.8 L131.7,512.0 L132.0,512.2 L132.4,512.4 L132.7,512.6 L133.1,512.8 L133.4,513.0 L133.8,513.2 L134.1,513.4 L134.5,513.7 L134.9,513.9 L135.2,514.1 L135.6,514.3 L135.9,514.5 L136.3,514.7 L136.6,514.9 L137.0,515.1 L137.3,515.3 L137.7,515.5 L138.1,515.7 L138.4,515.9 L138.8,516.1 L139.1,516.3 L139.5,516.5 L139.8,516.7 L140.2,516.9 L140.5,517.1 L140.9,517.3 L141.3,517.5 L141.6,517.7 L142.0,517.9 L142.3,518.1 L142.7,518.3 L143.0,518.5 L143.4,518.7 L143.7,518.9 L144.1,519.1 L144.5,519.3 L144.8,519.5 L145.2,519.4 L145.5,519.4 L145.9,519.6 L146.2,519.8 L146.6,519.6 L146.9,519.4 L147.3,519.2 L147.7,519.1 L148.0,519.1 L148.4,519.2 L148.7,519.2 L149.1,519.0 L149.4,518.9 L149.8,518.8 L150.1,518.8 L150.5,518.8 L150.9,519.0 L151.2,518.9 L151.6,518.7 L151.9,518.6 L152.3,518.6 L152.6,518.7 L153.0,518.9 L153.3,519.0 L153.7,518.8 L154.1,518.8 L154.4,518.8 L154.8,518.9 L155.1,519.0 L155.5,519.2 L155.8,519.2 L156.2,519.1 L156.5,519.1 L156.9,519.2 L157.3,519.4 L157.6,519.6 L158.0,519.8 L158.3,519.6 L158.7,519.4 L159.0,519.4 L159.4,519.5 L159.7,519.3 L160.1,519.1 L160.5,518.9 L160.8,518.7 L161.2,518.5 L161.5,518.3 L161.9,518.1 L162.2,517.9 L162.6,517.7 L162.9,517.5 L163.3,517.3 L163.7,517.1 L164.0,516.9 L164.4,516.7 L164.7,516.5 L165.1,516.3 L165.4,516.1 L165.8,515.9 L166.1,515.7 L166.5,515.5 L166.9,515.3 L167.2,515.1 L167.6,514.9 L167.9,514.7 L168.3,514.5 L168.6,514.3 L169.0,514.1 L169.3,513.9 L169.7,513.7 L170.1,513.4 L170.4,513.2 L170.8,513.0 L171.1,512.8 L171.5,512.6 L171.8,512.4 L172.2,512.2 L172.5,512.0 L172.9,511.8 L173.3,511.5 L173.6,511.3 L179.3,507.9 L185.0,504.5 L190.6,501.1 L196.3,497.6 L202.0,494.2 L207.7,490.7 L213.3,487.3 L219.0,483.8 L224.7,480.3 L230.4,476.9 L236.0,473.4 L241.7,469.9 M62.5,468.7 L68.2,472.2 L73.8,475.7 L79.5,479.2 L85.2,482.6 L90.9,486.1 L96.5,489.6 L102.2,493.1 L107.9,496.6 L113.6,500.0 L119.2,503.5 L124.9,507.0 L130.6,510.4 L130.9,510.7 L131.3,510.9 L131.7,511.1 L132.0,511.3 L132.4,511.5 L132.7,511.7 L133.1,512.0 L133.4,512.2 L133.8,512.4 L134.1,512.6 L134.5,512.8 L134.9,513.0 L135.2,513.3 L135.6,513.5 L135.9,513.7 L136.3,513.9 L136.6,514.1 L137.0,514.3 L137.3,514.5 L137.7,514.8 L138.1,515.0 L138.4,515.2 L138.8,515.4 L139.1,515.6 L139.5,515.8 L139.8,516.0 L140.2,516.3 L140.5,516.5 L140.9,516.7 L141.3,516.9 L141.6,517.1 L142.0,517.3 L142.3,517.5 L142.7,517.7 L143.0,518.0 L143.4,518.2 L143.7,518.4 L144.1,518.6 L144.5,518.8 L144.8,519.0 L145.2,519.2 L145.5,519.1 L145.9,518.8 L146.2,518.5 L146.6,518.1 L146.9,517.8 L147.3,517.5 L147.7,517.6 L148.0,517.6 L148.4,517.5 L148.7,517.3 L149.1,517.0 L149.4,516.9 L149.8,517.0 L150.1,517.0 L150.5,516.9 L150.9,516.8 L151.2,516.6 L151.6,516.8 L151.9,516.9 L152.3,516.9 L152.6,516.8 L153.0,516.6 L153.3,516.8 L153.7,516.9 L154.1,517.0 L154.4,517.0 L154.8,516.9 L155.1,517.0 L155.5,517.3 L155.8,517.5 L156.2,517.6 L156.5,517.6 L156.9,517.5 L157.3,517.8 L157.6,518.1 L158.0,518.5 L158.3,518.8 L158.7,519.1 L159.0,519.2 L159.4,519.0 L159.7,518.8 L160.1,518.6 L160.5,518.4 L160.8,518.2 L161.2,518.0 L161.5,517.7 L161.9,517.5 L162.2,517.3 L162.6,517.1 L162.9,516.9 L163.3,516.7 L163.7,516.5 L164.0,516.3 L164.4,516.0 L164.7,515.8 L165.1,515.6 L165.4,515.4 L165.8,515.2 L166.1,515.0 L166.5,514.8 L166.9,514.5 L167.2,514.3 L167.6,514.1 L167.9,513.9 L168.3,513.7 L168.6,513.5 L169.0,513.3 L169.3,513.0 L169.7,512.8 L170.1,512.6 L170.4,512.4 L170.8,512.2 L171.1,512.0 L171.5,511.7 L171.8,511.5 L172.2,511.3 L172.5,511.1 L172.9,510.9 L173.3,510.7 L173.6,510.4 L179.3,507.0 L185.0,503.5 L190.6,500.0 L196.3,496.6 L202.0,493.1 L207.7,489.6 L213.3,486.1 L219.0,482.6 L224.7,479.2 L230.4,475.7 L236.0,472.2 L241.7,468.7 M62.5,432.3 L68.2,438.1 L73.8,443.9 L79.5,449.7 L85.2,455.5 L90.9,461.3 L96.5,467.1 L102.2,472.8 L107.9,478.6 L113.6,484.4 L119.2,490.1 L124.9,495.9 L130.6,501.6 L130.9,501.9 L131.3,502.3 L131.7,502.6 L132.0,503.0 L132.4,503.4 L132.7,503.7 L133.1,504.1 L133.4,504.4 L133.8,504.8 L134.1,505.1 L134.5,505.5 L134.9,505.8 L135.2,506.2 L135.6,506.6 L135.9,506.9 L136.3,507.3 L136.6,507.6 L137.0,508.0 L137.3,508.3 L137.7,508.7 L138.1,509.0 L138.4,509.4 L138.8,509.7 L139.1,510.1 L139.5,510.4 L139.8,510.8 L140.2,511.1 L140.5,511.5 L140.9,511.8 L141.3,512.2 L141.6,512.5 L142.0,512.8 L142.3,513.2 L142.7,513.5 L143.0,513.9 L143.4,514.2 L143.7,514.5 L144.1,514.9 L144.5,515.2 L144.8,515.5 L145.2,515.8 L145.5,516.2 L145.9,516.5 L146.2,516.8 L146.6,517.1 L146.9,517.3 L147.3,517.5 L147.7,517.1 L148.0,516.8 L148.4,516.5 L148.7,516.5 L149.1,516.8 L149.4,516.7 L149.8,516.4 L150.1,516.2 L150.5,516.2 L150.9,516.4 L151.2,516.5 L151.6,516.3 L151.9,516.0 L152.3,516.0 L152.6,516.3 L153.0,516.5 L153.3,516.4 L153.7,516.2 L154.1,516.2 L154.4,516.4 L154.8,516.7 L155.1,516.8 L155.5,516.5 L155.8,516.5 L156.2,516.8 L156.5,517.1 L156.9,517.5 L157.3,517.3 L157.6,517.1 L158.0,516.8 L158.3,516.5 L158.7,516.2 L159.0,515.8 L159.4,515.5 L159.7,515.2 L160.1,514.9 L160.5,514.5 L160.8,514.2 L161.2,513.9 L161.5,513.5 L161.9,513.2 L162.2,512.8 L162.6,512.5 L162.9,512.2 L163.3,511.8 L163.7,511.5 L164.0,511.1 L164.4,510.8 L164.7,510.4 L165.1,510.1 L165.4,509.7 L165.8,509.4 L166.1,509.0 L166.5,508.7 L166.9,508.3 L167.2,508.0 L167.6,507.6 L167.9,507.3 L168.3,506.9 L168.6,506.6 L169.0,506.2 L169.3,505.8 L169.7,505.5 L170.1,505.1 L170.4,504.8 L170.8,504.4 L171.1,504.1 L171.5,503.7 L171.8,503.4 L172.2,503.0 L172.5,502.6 L172.9,502.3 L173.3,501.9 L173.6,501.6 L179.3,495.9 L185.0,490.1 L190.6,484.4 L196.3,478.6 L202.0,472.8 L207.7,467.1 L213.3,461.3 L219.0,455.5 L224.7,449.7 L230.4,443.9 L236.0,438.1 L241.7,432.3 M62.5,430.1 L68.2,435.8 L73.8,441.6 L79.5,447.4 L85.2,453.2 L90.9,459.0 L96.5,464.7 L102.2,470.5 L107.9,476.3 L113.6,482.0 L119.2,487.8 L124.9,493.5 L130.6,499.2 L130.9,499.5 L131.3,499.9 L131.7,500.3 L132.0,500.6 L132.4,501.0 L132.7,501.3 L133.1,501.7 L133.4,502.0 L133.8,502.4 L134.1,502.7 L134.5,503.1 L134.9,503.4 L135.2,503.8 L135.6,504.1 L135.9,504.5 L136.3,504.9 L136.6,505.2 L137.0,505.6 L137.3,505.9 L137.7,506.3 L138.1,506.6 L138.4,507.0 L138.8,507.3 L139.1,507.7 L139.5,508.0 L139.8,508.3 L140.2,508.7 L140.5,509.0 L140.9,509.4 L141.3,509.7 L141.6,510.1 L142.0,510.4 L142.3,510.8 L142.7,511.1 L143.0,511.4 L143.4,511.8 L143.7,512.1 L144.1,512.5 L144.5,512.8 L144.8,513.1 L145.2,513.5 L145.5,513.8 L145.9,514.1 L146.2,514.4 L146.6,514.7 L146.9,515.1 L147.3,515.4 L147.7,515.7 L148.0,516.0 L148.4,516.2 L148.7,516.1 L149.1,515.7 L149.4,515.4 L149.8,515.5 L150.1,515.7 L150.5,515.7 L150.9,515.4 L151.2,515.1 L151.6,515.3 L151.9,515.6 L152.3,515.6 L152.6,515.3 L153.0,515.1 L153.3,515.4 L153.7,515.7 L154.1,515.7 L154.4,515.5 L154.8,515.4 L155.1,515.7 L155.5,516.1 L155.8,516.2 L156.2,516.0 L156.5,515.7 L156.9,515.4 L157.3,515.1 L157.6,514.7 L158.0,514.4 L158.3,514.1 L158.7,513.8 L159.0,513.5 L159.4,513.1 L159.7,512.8 L160.1,512.5 L160.5,512.1 L160.8,511.8 L161.2,511.4 L161.5,511.1 L161.9,510.8 L162.2,510.4 L162.6,510.1 L162.9,509.7 L163.3,509.4 L163.7,509.0 L164.0,508.7 L164.4,508.3 L164.7,508.0 L165.1,507.7 L165.4,507.3 L165.8,507.0 L166.1,506.6 L166.5,506.3 L166.9,505.9 L167.2,505.6 L167.6,505.2 L167.9,504.9 L168.3,504.5 L168.6,504.1 L169.0,503.8 L169.3,503.4 L169.7,503.1 L170.1,502.7 L170.4,502.4 L170.8,502.0 L171.1,501.7 L171.5,501.3 L171.8,501.0 L172.2,500.6 L172.5,500.3 L172.9,499.9 L173.3,499.5 L173.6,499.2 L179.3,493.5 L185.0,487.8 L190.6,482.0 L196.3,476.3 L202.0,470.5 L207.7,464.7 L213.3,459.0 L219.0,453.2 L224.7,447.4 L230.4,441.6 L236.0,435.8 L241.7,430.1 M62.5,427.8 L68.2,433.6 L73.8,439.4 L79.5,445.2 L85.2,451.0 L90.9,456.7 L96.5,462.5 L102.2,468.3 L107.9,474.0 L113.6,479.8 L119.2,485.5 L124.9,491.3 L130.6,497.0 L130.9,497.3 L131.3,497.7 L131.7,498.0 L132.0,498.4 L132.4,498.7 L132.7,499.1 L133.1,499.4 L133.4,499.8 L133.8,500.2 L134.1,500.5 L134.5,500.9 L134.9,501.2 L135.2,501.6 L135.6,501.9 L135.9,502.3 L136.3,502.6 L136.6,503.0 L137.0,503.3 L137.3,503.7 L137.7,504.0 L138.1,504.4 L138.4,504.7 L138.8,505.1 L139.1,505.4 L139.5,505.8 L139.8,506.1 L140.2,506.5 L140.5,506.8 L140.9,507.2 L141.3,507.5 L141.6,507.9 L142.0,508.2 L142.3,508.6 L142.7,508.9 L143.0,509.3 L143.4,509.6 L143.7,509.9 L144.1,510.3 L144.5,510.6 L144.8,511.0 L145.2,511.3 L145.5,511.6 L145.9,512.0 L146.2,512.3 L146.6,512.6 L146.9,513.0 L147.3,513.3 L147.7,513.6 L148.0,514.0 L148.4,514.3 L148.7,514.6 L149.1,514.9 L149.4,515.2 L149.8,515.0 L150.1,514.7 L150.5,514.4 L150.9,514.7 L151.2,515.0 L151.6,514.8 L151.9,514.4 L152.3,514.4 L152.6,514.8 L153.0,515.0 L153.3,514.7 L153.7,514.4 L154.1,514.7 L154.4,515.0 L154.8,515.2 L155.1,514.9 L155.5,514.6 L155.8,514.3 L156.2,514.0 L156.5,513.6 L156.9,513.3 L157.3,513.0 L157.6,512.6 L158.0,512.3 L158.3,512.0 L158.7,511.6 L159.0,511.3 L159.4,511.0 L159.7,510.6 L160.1,510.3 L160.5,509.9 L160.8,509.6 L161.2,509.3 L161.5,508.9 L161.9,508.6 L162.2,508.2 L162.6,507.9 L162.9,507.5 L163.3,507.2 L163.7,506.8 L164.0,506.5 L164.4,506.1 L164.7,505.8 L165.1,505.4 L165.4,505.1 L165.8,504.7 L166.1,504.4 L166.5,504.0 L166.9,503.7 L167.2,503.3 L167.6,503.0 L167.9,502.6 L168.3,502.3 L168.6,501.9 L169.0,501.6 L169.3,501.2 L169.7,500.9 L170.1,500.5 L170.4,500.2 L170.8,499.8 L171.1,499.4 L171.5,499.1 L171.8,498.7 L172.2,498.4 L172.5,498.0 L172.9,497.7 L173.3,497.3 L173.6,497.0 L179.3,491.3 L185.0,485.5 L190.6,479.8 L196.3,474.0 L202.0,468.3 L207.7,462.5 L213.3,456.7 L219.0,451.0 L224.7,445.2 L230.4,439.4 L236.0,433.6 L241.7,427.8 M62.5,425.6 L68.2,431.4 L73.8,437.2 L79.5,443.0 L85.2,448.8 L90.9,454.6 L96.5,460.3 L102.2,466.1 L107.9,471.9 L113.6,477.6 L119.2,483.4 L124.9,489.1 L130.6,494.8 L130.9,495.2 L131.3,495.6 L131.7,495.9 L132.0,496.3 L132.4,496.6 L132.7,497.0 L133.1,497.3 L133.4,497.7 L133.8,498.1 L134.1,498.4 L134.5,498.8 L134.9,499.1 L135.2,499.5 L135.6,499.8 L135.9,500.2 L136.3,500.5 L136.6,500.9 L137.0,501.3 L137.3,501.6 L137.7,502.0 L138.1,502.3 L138.4,502.7 L138.8,503.0 L139.1,503.4 L139.5,503.7 L139.8,504.1 L140.2,504.4 L140.5,504.8 L140.9,505.1 L141.3,505.5 L141.6,505.8 L142.0,506.2 L142.3,506.5 L142.7,506.9 L143.0,507.2 L143.4,507.6 L143.7,507.9 L144.1,508.3 L144.5,508.6 L144.8,509.0 L145.2,509.3 L145.5,509.7 L145.9,510.0 L146.2,510.4 L146.6,510.7 L146.9,511.1 L147.3,511.4 L147.7,511.7 L148.0,512.1 L148.4,512.4 L148.7,512.7 L149.1,513.1 L149.4,513.4 L149.8,513.7 L150.1,514.1 L150.5,514.3 L150.9,514.0 L151.2,513.6 L151.6,513.8 L151.9,514.1 L152.3,514.1 L152.6,513.8 L153.0,513.6 L153.3,514.0 L153.7,514.3 L154.1,514.1 L154.4,513.7 L154.8,513.4 L155.1,513.1 L155.5,512.7 L155.8,512.4 L156.2,512.1 L156.5,511.7 L156.9,511.4 L157.3,511.1 L157.6,510.7 L158.0,510.4 L158.3,510.0 L158.7,509.7 L159.0,509.3 L159.4,509.0 L159.7,508.6 L160.1,508.3 L160.5,507.9 L160.8,507.6 L161.2,507.2 L161.5,506.9 L161.9,506.5 L162.2,506.2 L162.6,505.8 L162.9,505.5 L163.3,505.1 L163.7,504.8 L164.0,504.4 L164.4,504.1 L164.7,503.7 L165.1,503.4 L165.4,503.0 L165.8,502.7 L166.1,502.3 L166.5,502.0 L166.9,501.6 L167.2,501.3 L167.6,500.9 L167.9,500.5 L168.3,500.2 L168.6,499.8 L169.0,499.5 L169.3,499.1 L169.7,498.8 L170.1,498.4 L170.4,498.1 L170.8,497.7 L171.1,497.3 L171.5,497.0 L171.8,496.6 L172.2,496.3 L172.5,495.9 L172.9,495.6 L173.3,495.2 L173.6,494.8 L179.3,489.1 L185.0,483.4 L190.6,477.6 L196.3,471.9 L202.0,466.1 L207.7,460.3 L213.3,454.6 L219.0,448.8 L224.7,443.0 L230.4,437.2 L236.0,431.4 L241.7,425.6 M62.5,423.5 L68.2,429.3 L73.8,435.1 L79.5,440.9 L85.2,446.7 L90.9,452.4 L96.5,458.2 L102.2,464.0 L107.9,469.8 L113.6,475.6 L119.2,481.3 L124.9,487.1 L130.6,492.8 L130.9,493.2 L131.3,493.6 L131.7,493.9 L132.0,494.3 L132.4,494.6 L132.7,495.0 L133.1,495.4 L133.4,495.7 L133.8,496.1 L134.1,496.4 L134.5,496.8 L134.9,497.1 L135.2,497.5 L135.6,497.9 L135.9,498.2 L136.3,498.6 L136.6,498.9 L137.0,499.3 L137.3,499.7 L137.7,500.0 L138.1,500.4 L138.4,500.7 L138.8,501.1 L139.1,501.4 L139.5,501.8 L139.8,502.2 L140.2,502.5 L140.5,502.9 L140.9,503.2 L141.3,503.6 L141.6,503.9 L142.0,504.3 L142.3,504.6 L142.7,505.0 L143.0,505.4 L143.4,505.7 L143.7,506.1 L144.1,506.4 L144.5,506.8 L144.8,507.1 L145.2,507.5 L145.5,507.8 L145.9,508.2 L146.2,508.5 L146.6,508.9 L146.9,509.2 L147.3,509.6 L147.7,509.9 L148.0,510.3 L148.4,510.6 L148.7,511.0 L149.1,511.3 L149.4,511.7 L149.8,512.0 L150.1,512.4 L150.5,512.7 L150.9,513.1 L151.2,513.4 L151.6,513.3 L151.9,512.9 L152.3,512.9 L152.6,513.3 L153.0,513.4 L153.3,513.1 L153.7,512.7 L154.1,512.4 L154.4,512.0 L154.8,511.7 L155.1,511.3 L155.5,511.0 L155.8,510.6 L156.2,510.3 L156.5,509.9 L156.9,509.6 L157.3,509.2 L157.6,508.9 L158.0,508.5 L158.3,508.2 L158.7,507.8 L159.0,507.5 L159.4,507.1 L159.7,506.8 L160.1,506.4 L160.5,506.1 L160.8,505.7 L161.2,505.4 L161.5,505.0 L161.9,504.6 L162.2,504.3 L162.6,503.9 L162.9,503.6 L163.3,503.2 L163.7,502.9 L164.0,502.5 L164.4,502.2 L164.7,501.8 L165.1,501.4 L165.4,501.1 L165.8,500.7 L166.1,500.4 L166.5,500.0 L166.9,499.7 L167.2,499.3 L167.6,498.9 L167.9,498.6 L168.3,498.2 L168.6,497.9 L169.0,497.5 L169.3,497.1 L169.7,496.8 L170.1,496.4 L170.4,496.1 L170.8,495.7 L171.1,495.4 L171.5,495.0 L171.8,494.6 L172.2,494.3 L172.5,493.9 L172.9,493.6 L173.3,493.2 L173.6,492.8 L179.3,487.1 L185.0,481.3 L190.6,475.6 L196.3,469.8 L202.0,464.0 L207.7,458.2 L213.3,452.4 L219.0,446.7 L224.7,440.9 L230.4,435.1 L236.0,429.3 L241.7,423.5 M62.5,421.4 L68.2,427.2 L73.8,433.0 L79.5,438.8 L85.2,444.6 L90.9,450.4 L96.5,456.2 L102.2,462.0 L107.9,467.8 L113.6,473.6 L119.2,479.3 L124.9,485.1 L130.6,490.9 L130.9,491.3 L131.3,491.6 L131.7,492.0 L132.0,492.4 L132.4,492.7 L132.7,493.1 L133.1,493.5 L133.4,493.8 L133.8,494.2 L134.1,494.5 L134.5,494.9 L134.9,495.3 L135.2,495.6 L135.6,496.0 L135.9,496.3 L136.3,496.7 L136.6,497.1 L137.0,497.4 L137.3,497.8 L137.7,498.2 L138.1,498.5 L138.4,498.9 L138.8,499.2 L139.1,499.6 L139.5,500.0 L139.8,500.3 L140.2,500.7 L140.5,501.0 L140.9,501.4 L141.3,501.8 L141.6,502.1 L142.0,502.5 L142.3,502.8 L142.7,503.2 L143.0,503.6 L143.4,503.9 L143.7,504.3 L144.1,504.7 L144.5,505.0 L144.8,505.4 L145.2,505.7 L145.5,506.1 L145.9,506.5 L146.2,506.8 L146.6,507.2 L146.9,507.5 L147.3,507.9 L147.7,508.3 L148.0,508.6 L148.4,509.0 L148.7,509.3 L149.1,509.7 L149.4,510.0 L149.8,510.4 L150.1,510.8 L150.5,511.1 L150.9,511.5 L151.2,511.8 L151.6,512.2 L151.9,512.5 L152.3,512.5 L152.6,512.2 L153.0,511.8 L153.3,511.5 L153.7,511.1 L154.1,510.8 L154.4,510.4 L154.8,510.0 L155.1,509.7 L155.5,509.3 L155.8,509.0 L156.2,508.6 L156.5,508.3 L156.9,507.9 L157.3,507.5 L157.6,507.2 L158.0,506.8 L158.3,506.5 L158.7,506.1 L159.0,505.7 L159.4,505.4 L159.7,505.0 L160.1,504.7 L160.5,504.3 L160.8,503.9 L161.2,503.6 L161.5,503.2 L161.9,502.8 L162.2,502.5 L162.6,502.1 L162.9,501.8 L163.3,501.4 L163.7,501.0 L164.0,500.7 L164.4,500.3 L164.7,500.0 L165.1,499.6 L165.4,499.2 L165.8,498.9 L166.1,498.5 L166.5,498.2 L166.9,497.8 L167.2,497.4 L167.6,497.1 L167.9,496.7 L168.3,496.3 L168.6,496.0 L169.0,495.6 L169.3,495.3 L169.7,494.9 L170.1,494.5 L170.4,494.2 L170.8,493.8 L171.1,493.5 L171.5,493.1 L171.8,492.7 L172.2,492.4 L172.5,492.0 L172.9,491.6 L173.3,491.3 L173.6,490.9 L179.3,485.1 L185.0,479.3 L190.6,473.6 L196.3,467.8 L202.0,462.0 L207.7,456.2 L213.3,450.4 L219.0,444.6 L224.7,438.8 L230.4,433.0 L236.0,427.2 L241.7,421.4" fill="none" stroke="#ff0000" stroke-width="1.1" stroke-linejoin="round"/>
</g>
<rect x="66.7" y="421.5" width="37" height="16.2" fill="#fff"/>
<rect x="197" y="421.5" width="40.6" height="15.6" fill="#fff"/>
<rect x="65.7" y="598.5" width="38" height="16" fill="#fff"/>
<rect x="197" y="598.7" width="39" height="16" fill="#fff"/>
<line x1="152.2" y1="416.8" x2="152.2" y2="620.7" stroke="#000" stroke-width="1.2" stroke-dasharray="1.3,1.03"/>
<rect x="144.6" y="505.4" width="56.1" height="66.8" fill="none" stroke="#000" stroke-width="1.0"/>
<line x1="60.8" y1="416.1" x2="60.8" y2="621.6" stroke="#2b2b2b" stroke-width="1.5" /><line x1="243.3" y1="416.1" x2="243.3" y2="621.6" stroke="#2b2b2b" stroke-width="1.3" /><line x1="60.0" y1="416.8" x2="244.0" y2="416.8" stroke="#2b2b2b" stroke-width="1.2" /><line x1="60.0" y1="620.7" x2="244.0" y2="620.7" stroke="#2b2b2b" stroke-width="1.8" />
<line x1="80.6" y1="416.8" x2="80.6" y2="422.8" stroke="#2b2b2b" stroke-width="1.1" />
<line x1="80.6" y1="620.7" x2="80.6" y2="614.7" stroke="#2b2b2b" stroke-width="1.1" />
<line x1="116.1" y1="416.8" x2="116.1" y2="422.8" stroke="#2b2b2b" stroke-width="1.1" />
<line x1="116.1" y1="620.7" x2="116.1" y2="614.7" stroke="#2b2b2b" stroke-width="1.1" />
<line x1="152.1" y1="416.8" x2="152.1" y2="422.8" stroke="#2b2b2b" stroke-width="1.1" />
<line x1="152.1" y1="620.7" x2="152.1" y2="614.7" stroke="#2b2b2b" stroke-width="1.1" />
<line x1="187.6" y1="416.8" x2="187.6" y2="422.8" stroke="#2b2b2b" stroke-width="1.1" />
<line x1="187.6" y1="620.7" x2="187.6" y2="614.7" stroke="#2b2b2b" stroke-width="1.1" />
<line x1="223.3" y1="416.8" x2="223.3" y2="422.8" stroke="#2b2b2b" stroke-width="1.1" />
<line x1="223.3" y1="620.7" x2="223.3" y2="614.7" stroke="#2b2b2b" stroke-width="1.1" />
<line x1="60.8" y1="461.9" x2="67.2" y2="461.9" stroke="#2b2b2b" stroke-width="1.1" />
<line x1="243.3" y1="461.9" x2="236.8" y2="461.9" stroke="#2b2b2b" stroke-width="1.1" />
<text x="56.3" y="465.9" font-size="12.1" text-anchor="end" font-weight="bold" fill="#000" stroke="#000" stroke-width="0.25" >50</text>
<line x1="60.8" y1="525.2" x2="67.2" y2="525.2" stroke="#2b2b2b" stroke-width="1.1" />
<line x1="243.3" y1="525.2" x2="236.8" y2="525.2" stroke="#2b2b2b" stroke-width="1.1" />
<text x="56.3" y="529.2" font-size="12.1" text-anchor="end" font-weight="bold" fill="#000" stroke="#000" stroke-width="0.25" >0</text>
<line x1="60.8" y1="588.2" x2="67.2" y2="588.2" stroke="#2b2b2b" stroke-width="1.1" />
<line x1="243.3" y1="588.2" x2="236.8" y2="588.2" stroke="#2b2b2b" stroke-width="1.1" />
<text x="56.3" y="592.2" font-size="12.1" text-anchor="end" font-weight="bold" fill="#000" stroke="#000" stroke-width="0.25" >-50</text>
<text x="80.9" y="636.2" font-size="12.1" text-anchor="middle" font-weight="bold" fill="#000" stroke="#000" stroke-width="0.25" >-0.2</text>
<text x="116.4" y="636.2" font-size="12.1" text-anchor="middle" font-weight="bold" fill="#000" stroke="#000" stroke-width="0.25" >-0.1</text>
<text x="152.1" y="636.2" font-size="12.1" text-anchor="middle" font-weight="bold" fill="#000" stroke="#000" stroke-width="0.25" >0.0</text>
<text x="187.6" y="636.2" font-size="12.1" text-anchor="middle" font-weight="bold" fill="#000" stroke="#000" stroke-width="0.25" >0.1</text>
<text x="223.3" y="636.2" font-size="12.1" text-anchor="middle" font-weight="bold" fill="#000" stroke="#000" stroke-width="0.25" >0.2</text>
<text x="151.9" y="651.7" font-size="12.3" text-anchor="middle" font-weight="bold" fill="#000" stroke="#000" stroke-width="0.25" >B (T)</text>
<text x="67.0" y="431.8" font-size="11" text-anchor="start" font-weight="bold" fill="#000" stroke="#000" stroke-width="0.25" textLength="35.0" lengthAdjust="spacing">S<tspan font-size="7.5" dy="2.4">z</tspan><tspan dy="-2.4" font-size="1">&#8203;</tspan>= -5/2</text>
<text x="200.2" y="431.8" font-size="11" text-anchor="start" font-weight="bold" fill="#000" stroke="#000" stroke-width="0.25" textLength="37.3" lengthAdjust="spacing">S<tspan font-size="7.5" dy="2.4">z</tspan><tspan dy="-2.4" font-size="1">&#8203;</tspan>= +5/2</text>
<text x="66.2" y="608.8" font-size="11" text-anchor="start" font-weight="bold" fill="#000" stroke="#000" stroke-width="0.25" textLength="36.4" lengthAdjust="spacing">S<tspan font-size="7.5" dy="2.4">z</tspan><tspan dy="-2.4" font-size="1">&#8203;</tspan>= +5/2</text>
<text x="200.9" y="608.8" font-size="11" text-anchor="start" font-weight="bold" fill="#000" stroke="#000" stroke-width="0.25" textLength="34.6" lengthAdjust="spacing">S<tspan font-size="7.5" dy="2.4">z</tspan><tspan dy="-2.4" font-size="1">&#8203;</tspan>= -5/2</text>
<text x="130.6" y="433.2" font-size="12.4" text-anchor="middle" font-weight="bold" fill="#000" stroke="#000" stroke-width="0.25" >(c)</text>
<g transform="translate(39.1,518.2) rotate(-90)"><text x="0" y="0" font-size="12.4" font-weight="bold" text-anchor="middle" stroke="#000" stroke-width="0.25">Energy (&#181;eV)</text></g>
<path d="M320.2,170.4 C322.8,170.3 330.9,170.1 335.6,169.7 C339.9,169.3 344.9,168.5 348.3,167.9 C350.9,167.5 354.3,167.3 356.0,166.3 C357.5,165.5 358.2,163.6 358.6,162.0 C359.3,159.4 360.0,154.4 360.4,150.5 C360.9,145.6 361.4,138.6 361.9,132.6 C362.4,126.2 363.0,116.8 363.4,112.1 C363.6,109.5 363.9,106.9 364.1,104.3 C364.3,100.8 364.5,94.8 364.8,90.8 C365.0,87.2 365.4,83.6 365.7,80.0 C366.4,81.8 367.1,83.6 367.7,85.4 C368.3,87.2 368.9,89.0 369.1,90.8 C369.5,93.9 369.7,100.8 370.0,104.3 C370.2,106.9 370.6,109.5 370.8,112.1 C371.2,117.2 372.1,128.3 372.7,135.1 C373.3,141.1 374.1,148.3 374.7,153.0 C375.2,156.4 375.9,160.6 376.5,163.0 C376.9,164.6 377.3,166.6 378.4,167.7 C379.5,168.8 381.3,169.4 382.9,169.7 C385.6,170.1 390.6,170.3 394.4,170.4 C399.0,170.6 407.8,170.6 410.5,170.7" fill="none" stroke="#000" stroke-width="1.25" stroke-linejoin="round"/>
<path d="M320.2,170.2 C321.9,170.0 327.5,169.5 330.5,169.1 C333.1,168.7 335.8,168.4 338.1,167.6 C340.4,166.9 342.6,165.9 344.5,164.5 C346.4,163.1 348.2,161.4 349.6,159.4 C351.1,157.3 352.5,154.5 353.5,151.8 C354.6,149.0 355.4,145.9 356.0,142.8 C356.7,139.2 357.3,134.3 357.8,130.0 C358.4,125.3 358.9,119.0 359.3,114.7 C359.6,111.2 360.1,107.8 360.3,104.3 C360.6,98.5 361.0,87.0 361.4,80.0 C361.7,74.1 362.2,68.0 362.7,62.4 C363.2,57.0 363.8,50.9 364.4,46.1 C364.9,42.0 365.5,37.5 366.0,33.9 C366.5,30.8 367.0,26.3 367.5,24.5 C367.7,23.9 368.4,22.8 368.8,23.1 C369.2,23.4 369.8,25.3 370.0,26.5 C370.4,28.8 371.1,33.3 371.4,36.7 C371.8,41.6 372.1,49.5 372.5,55.6 C372.9,61.5 373.3,67.3 373.8,73.2 C374.3,79.1 374.9,85.6 375.5,90.8 C376.0,95.3 376.7,100.3 377.2,104.3 C377.6,107.8 377.8,111.3 378.3,114.7 C379.0,119.0 380.0,125.7 381.1,130.0 C382.0,133.5 383.3,137.1 384.7,140.3 C386.0,143.4 387.7,146.3 389.3,149.2 C390.9,152.2 392.7,155.5 394.4,158.1 C395.9,160.4 397.8,162.9 399.5,164.5 C401.0,165.9 402.8,167.0 404.6,167.9 C406.4,168.8 409.5,169.6 410.5,169.9" fill="none" stroke="#ff0000" stroke-width="1.15" stroke-linejoin="round"/>
<line x1="365.6" y1="16.5" x2="365.6" y2="184.2" stroke="#000" stroke-width="1.2" stroke-dasharray="1.3,1.03"/>
<line x1="274.6" y1="15.9" x2="274.6" y2="184.9" stroke="#2b2b2b" stroke-width="1.4" /><line x1="456.9" y1="15.9" x2="456.9" y2="184.9" stroke="#2b2b2b" stroke-width="1.4" /><line x1="273.9" y1="16.5" x2="457.6" y2="16.5" stroke="#2b2b2b" stroke-width="1.25" /><line x1="273.9" y1="184.2" x2="457.6" y2="184.2" stroke="#2b2b2b" stroke-width="1.4" />
<line x1="293.3" y1="16.5" x2="293.3" y2="22.5" stroke="#2b2b2b" stroke-width="1.1" />
<line x1="293.3" y1="184.2" x2="293.3" y2="178.2" stroke="#2b2b2b" stroke-width="1.1" />
<line x1="329.3" y1="16.5" x2="329.3" y2="22.5" stroke="#2b2b2b" stroke-width="1.1" />
<line x1="329.3" y1="184.2" x2="329.3" y2="178.2" stroke="#2b2b2b" stroke-width="1.1" />
<line x1="365.4" y1="16.5" x2="365.4" y2="22.5" stroke="#2b2b2b" stroke-width="1.1" />
<line x1="365.4" y1="184.2" x2="365.4" y2="178.2" stroke="#2b2b2b" stroke-width="1.1" />
<line x1="401.4" y1="16.5" x2="401.4" y2="22.5" stroke="#2b2b2b" stroke-width="1.1" />
<line x1="401.4" y1="184.2" x2="401.4" y2="178.2" stroke="#2b2b2b" stroke-width="1.1" />
<line x1="437.4" y1="16.5" x2="437.4" y2="22.5" stroke="#2b2b2b" stroke-width="1.1" />
<line x1="437.4" y1="184.2" x2="437.4" y2="178.2" stroke="#2b2b2b" stroke-width="1.1" />
<line x1="274.6" y1="32.5" x2="281.1" y2="32.5" stroke="#2b2b2b" stroke-width="1.1" />
<line x1="456.9" y1="32.5" x2="450.4" y2="32.5" stroke="#2b2b2b" stroke-width="1.1" />
<text x="271.0" y="36.7" font-size="12.1" text-anchor="end" font-weight="bold" fill="#000" stroke="#000" stroke-width="0.25" >0.10</text>
<line x1="274.6" y1="108.0" x2="281.1" y2="108.0" stroke="#2b2b2b" stroke-width="1.1" />
<line x1="456.9" y1="108.0" x2="450.4" y2="108.0" stroke="#2b2b2b" stroke-width="1.1" />
<text x="271.0" y="112.2" font-size="12.1" text-anchor="end" font-weight="bold" fill="#000" stroke="#000" stroke-width="0.25" >0.05</text>
<line x1="274.6" y1="183.3" x2="281.1" y2="183.3" stroke="#2b2b2b" stroke-width="1.1" />
<line x1="456.9" y1="183.3" x2="450.4" y2="183.3" stroke="#2b2b2b" stroke-width="1.1" />
<text x="271.0" y="187.5" font-size="12.1" text-anchor="end" font-weight="bold" fill="#000" stroke="#000" stroke-width="0.25" >0.00</text>
<text x="293.6" y="199.4" font-size="12.1" text-anchor="middle" font-weight="bold" fill="#000" stroke="#000" stroke-width="0.25" >-0.4</text>
<text x="329.6" y="199.4" font-size="12.1" text-anchor="middle" font-weight="bold" fill="#000" stroke="#000" stroke-width="0.25" >-0.2</text>
<text x="365.4" y="199.4" font-size="12.1" text-anchor="middle" font-weight="bold" fill="#000" stroke="#000" stroke-width="0.25" >0.0</text>
<text x="401.4" y="199.4" font-size="12.1" text-anchor="middle" font-weight="bold" fill="#000" stroke="#000" stroke-width="0.25" >0.2</text>
<text x="437.4" y="199.4" font-size="12.1" text-anchor="middle" font-weight="bold" fill="#000" stroke="#000" stroke-width="0.25" >0.4</text>
<text x="365.8" y="214.6" font-size="12.3" text-anchor="middle" font-weight="bold" fill="#000" stroke="#000" stroke-width="0.25" >B (T)</text>
<line x1="283.3" y1="30.4" x2="300.0" y2="30.4" stroke="#000" stroke-width="1.1" />
<line x1="283.3" y1="42.3" x2="300.0" y2="42.3" stroke="#ff0000" stroke-width="1.1" />
<text x="301.5" y="32.8" font-size="9" text-anchor="start" font-weight="bold" fill="#000" stroke="#000" stroke-width="0.25" >D<tspan font-size="7" dy="2.1">0</tspan><tspan dy="-2.1" font-size="1">&#8203;</tspan><tspan font-size="10.6" dx="-0.5" dy="1.0">=</tspan><tspan dx="-0.55" dy="-1.0" font-size="1">&#8203;</tspan>2.0 E<tspan font-size="10.6" dx="-0.5" dy="1.0">=</tspan><tspan dx="-0.55" dy="-1.0" font-size="1">&#8203;</tspan>0</text>
<text x="301.5" y="44.9" font-size="9" text-anchor="start" font-weight="bold" fill="#000" stroke="#000" stroke-width="0.25" >D<tspan font-size="7" dy="2.1">0</tspan><tspan dy="-2.1" font-size="1">&#8203;</tspan><tspan font-size="10.6" dx="-0.5" dy="1.0">=</tspan><tspan dx="-0.55" dy="-1.0" font-size="1">&#8203;</tspan>2.0 E<tspan font-size="10.6" dx="-0.5" dy="1.0">=</tspan><tspan dx="-0.55" dy="-1.0" font-size="1">&#8203;</tspan>D<tspan font-size="7" dy="2.1">0</tspan><tspan dy="-2.1" font-size="1">&#8203;</tspan>/3</text>
<text x="439.0" y="34.4" font-size="12.4" text-anchor="middle" font-weight="bold" fill="#000" stroke="#000" stroke-width="0.25" >(b)</text>
<path d="M275.3,342.5 L278.4,340.4 L281.6,340.0 L284.7,338.3 L287.9,337.5 L290.0,335.8 L293.2,336.8 L296.3,335.8 L298.4,334.7 L300.1,336.4 L302.0,334.1 L303.7,335.8 L305.8,334.1 L308.3,332.2 L310.4,335.4 L312.1,333.7 L313.8,334.7 L315.9,332.6 L318.0,330.5 L319.7,332.0 L321.6,330.5 L323.7,332.6 L325.2,331.6 L326.8,328.4 L329.4,328.8 L332.1,328.4 L334.2,326.3 L337.4,324.2 L340.5,324.2 L343.7,322.5 L346.8,321.1 L349.6,318.9 L351.1,313.7 L352.5,309.5 L354.6,305.3 L356.3,300.0 L357.8,291.6 L359.1,281.1 L360.5,266.3 L362.0,249.5 L363.7,234.7 L365.2,226.3 L366.5,223.8 L368.8,226.3 L370.9,232.6 L372.6,245.3 L374.7,260.0 L376.8,270.5 L379.4,278.9 L382.1,288.4 L385.3,296.8 L388.4,303.2 L391.6,308.4 L394.1,312.0 L396.2,312.6 L397.9,315.2 L400.0,314.7 L402.1,317.3 L404.6,320.0 L407.4,322.1 L409.9,324.8 L412.0,321.5 L414.3,323.2 L416.8,325.9 L419.4,327.4 L422.1,325.3 L424.2,328.0 L426.9,327.4 L429.5,330.5 L432.6,331.6 L435.8,333.1 L438.9,334.1 L441.1,335.4 L442.7,333.1 L444.6,335.2 L447.4,335.4 L450.5,334.1 L453.1,332.6 L455.8,334.3" fill="none" stroke="#ff0000" stroke-width="1.15" stroke-linejoin="round"/>
<path d="M275.3,477.4 L279.5,476.3 L284.7,475.9 L287.3,474.6 L291.1,475.5 L294.2,474.8 L296.3,476.3 L299.5,474.6 L303.7,473.2 L306.8,474.2 L310.0,473.4 L314.2,474.2 L317.4,474.2 L320.5,473.2 L323.7,473.8 L325.4,475.3 L327.9,472.1 L330.4,470.4 L332.5,472.5 L334.2,471.7 L336.3,472.5 L338.4,469.4 L340.9,468.3 L343.7,468.9 L345.8,470.0 L347.9,466.8 L350.0,463.7 L352.1,465.4 L353.8,463.7 L355.7,456.3 L357.8,450.6 L359.5,440.5 L361.2,428.9 L362.6,411.1 L363.9,392.1 L365.2,373.2 L366.6,361.0 L368.4,355.9 L369.9,362.6 L371.6,377.4 L373.7,394.2 L375.8,411.1 L378.3,425.8 L380.6,435.3 L383.2,439.5 L386.3,445.2 L388.8,450.6 L390.9,450.0 L393.3,453.8 L395.8,457.4 L397.9,454.8 L400.0,458.4 L402.5,462.0 L405.3,462.6 L408.0,465.4 L410.5,467.3 L413.7,466.2 L417.3,463.7 L419.6,465.4 L421.5,467.9 L423.6,466.2 L425.3,467.9 L426.9,466.4 L429.1,469.4 L431.6,468.9 L434.7,470.0 L437.5,470.4 L439.6,472.1 L441.7,470.6 L444.2,471.7 L446.3,471.1 L448.4,474.8 L450.5,472.7 L453.7,474.6 L455.8,475.7" fill="none" stroke="#ff0000" stroke-width="1.15" stroke-linejoin="round"/>
<path d="M275.3,613.6 L277.4,615.1 L279.5,616.1 L281.6,615.1 L283.3,612.1 L285.2,611.5 L286.8,615.1 L288.9,614.6 L291.1,612.5 L293.2,615.3 L295.3,614.6 L297.8,611.5 L300.5,612.9 L303.3,613.6 L306.2,612.1 L308.9,612.5 L311.1,611.1 L313.2,609.4 L315.9,610.4 L318.8,610.8 L321.6,608.9 L324.3,610.4 L326.8,609.4 L329.4,610.8 L332.1,609.4 L334.2,610.4 L336.9,608.7 L340.5,608.9 L342.6,607.3 L343.7,605.6 L345.2,609.8 L346.8,607.9 L348.9,604.5 L351.1,600.9 L352.5,598.4 L353.8,599.9 L355.3,595.7 L356.9,591.5 L358.8,588.7 L360.5,578.8 L362.0,562.0 L363.3,543.1 L364.3,524.1 L365.4,505.2 L366.4,491.5 L367.2,488.0 L368.8,493.6 L370.5,499.9 L371.6,515.7 L372.6,532.5 L374.1,530.0 L375.2,545.2 L376.8,559.9 L377.9,568.3 L379.4,567.3 L380.4,576.7 L381.7,586.2 L384.2,585.8 L386.3,591.5 L388.4,593.6 L390.1,597.8 L392.2,596.1 L394.7,598.8 L397.3,598.4 L399.4,602.4 L402.1,603.7 L405.3,605.2 L407.4,604.5 L409.9,607.3 L412.6,606.2 L415.8,607.7 L418.9,609.4 L422.1,609.4 L424.8,612.1 L427.4,608.9 L429.9,611.9 L432.0,610.0 L434.7,612.1 L437.9,611.5 L441.1,612.5 L444.2,614.2 L447.4,614.6 L450.1,613.6 L452.0,611.5 L454.1,613.6 L455.8,615.7" fill="none" stroke="#ff0000" stroke-width="1.15" stroke-linejoin="round"/>
<line x1="273.4" y1="355.8" x2="457.1" y2="355.8" stroke="#3a3a3a" stroke-width="1.4" />
<line x1="273.4" y1="487.8" x2="457.1" y2="487.8" stroke="#3a3a3a" stroke-width="1.4" />
<line x1="365.5" y1="222.3" x2="365.5" y2="620.7" stroke="#000" stroke-width="1.2" stroke-dasharray="1.3,1.03"/>
<line x1="273.4" y1="221.6" x2="273.4" y2="621.6" stroke="#2b2b2b" stroke-width="1.4" /><line x1="457.1" y1="221.6" x2="457.1" y2="621.6" stroke="#2b2b2b" stroke-width="1.3" /><line x1="272.7" y1="222.3" x2="457.7" y2="222.3" stroke="#2b2b2b" stroke-width="1.4" /><line x1="272.7" y1="620.7" x2="457.7" y2="620.7" stroke="#2b2b2b" stroke-width="1.8" />
<line x1="292.7" y1="222.3" x2="292.7" y2="228.3" stroke="#2b2b2b" stroke-width="1.1" />
<line x1="292.7" y1="620.7" x2="292.7" y2="614.7" stroke="#2b2b2b" stroke-width="1.1" />
<line x1="328.9" y1="222.3" x2="328.9" y2="228.3" stroke="#2b2b2b" stroke-width="1.1" />
<line x1="328.9" y1="620.7" x2="328.9" y2="614.7" stroke="#2b2b2b" stroke-width="1.1" />
<line x1="365.1" y1="222.3" x2="365.1" y2="228.3" stroke="#2b2b2b" stroke-width="1.1" />
<line x1="365.1" y1="620.7" x2="365.1" y2="614.7" stroke="#2b2b2b" stroke-width="1.1" />
<line x1="401.2" y1="222.3" x2="401.2" y2="228.3" stroke="#2b2b2b" stroke-width="1.1" />
<line x1="401.2" y1="620.7" x2="401.2" y2="614.7" stroke="#2b2b2b" stroke-width="1.1" />
<line x1="437.4" y1="222.3" x2="437.4" y2="228.3" stroke="#2b2b2b" stroke-width="1.1" />
<line x1="437.4" y1="620.7" x2="437.4" y2="614.7" stroke="#2b2b2b" stroke-width="1.1" />
<text x="270.2" y="228.1" font-size="12.1" text-anchor="end" font-weight="bold" fill="#000" stroke="#000" stroke-width="0.25" >3</text>
<text x="270.2" y="360.1" font-size="12.1" text-anchor="end" font-weight="bold" fill="#000" stroke="#000" stroke-width="0.25" >2</text>
<text x="270.2" y="492.1" font-size="12.1" text-anchor="end" font-weight="bold" fill="#000" stroke="#000" stroke-width="0.25" >1</text>
<text x="270.2" y="624.0" font-size="12.1" text-anchor="end" font-weight="bold" fill="#000" stroke="#000" stroke-width="0.25" >0</text>
<line x1="273.4" y1="223.6" x2="279.9" y2="223.6" stroke="#2b2b2b" stroke-width="1.1" />
<line x1="457.1" y1="223.6" x2="450.6" y2="223.6" stroke="#2b2b2b" stroke-width="1.1" />
<line x1="273.4" y1="619.6" x2="279.9" y2="619.6" stroke="#2b2b2b" stroke-width="1.1" />
<line x1="457.1" y1="619.6" x2="450.6" y2="619.6" stroke="#2b2b2b" stroke-width="1.1" />
<text x="293.0" y="636.0" font-size="12.1" text-anchor="middle" font-weight="bold" fill="#000" stroke="#000" stroke-width="0.25" >-0.4</text>
<text x="329.2" y="636.0" font-size="12.1" text-anchor="middle" font-weight="bold" fill="#000" stroke="#000" stroke-width="0.25" >-0.2</text>
<text x="365.1" y="636.0" font-size="12.1" text-anchor="middle" font-weight="bold" fill="#000" stroke="#000" stroke-width="0.25" >0.0</text>
<text x="401.2" y="636.0" font-size="12.1" text-anchor="middle" font-weight="bold" fill="#000" stroke="#000" stroke-width="0.25" >0.2</text>
<text x="437.4" y="636.0" font-size="12.1" text-anchor="middle" font-weight="bold" fill="#000" stroke="#000" stroke-width="0.25" >0.4</text>
<text x="365.8" y="651.7" font-size="12.3" text-anchor="middle" font-weight="bold" fill="#000" stroke="#000" stroke-width="0.25" >B (T)</text>
<text x="297.4" y="246.0" font-size="12.4" text-anchor="middle" font-weight="bold" fill="#000" stroke="#000" stroke-width="0.25" >(d)</text>
<text x="423.9" y="313.8" font-size="11" text-anchor="start" font-weight="normal" fill="#000" stroke="#000" stroke-width="0.2" >50P<tspan font-size="7.5" dy="3.3">0</tspan><tspan dy="-3.3" font-size="1">&#8203;</tspan></text>
<text x="421.7" y="457.7" font-size="11" text-anchor="start" font-weight="normal" fill="#000" stroke="#000" stroke-width="0.2" >10 <tspan dx="-0.8">P</tspan><tspan font-size="7.5" dy="3.3">0</tspan><tspan dy="-3.3" font-size="1">&#8203;</tspan></text>
<text x="427.6" y="600.3" font-size="11" text-anchor="start" font-weight="normal" fill="#000" stroke="#000" stroke-width="0.2" >P<tspan font-size="7.5" dy="3.3">0</tspan><tspan dy="-3.3" font-size="1">&#8203;</tspan></text>
<g transform="translate(261.6,421.8) rotate(-90)"><text x="0" y="0" font-size="12.4" font-weight="bold" text-anchor="middle" stroke="#000" stroke-width="0.25">Norm. PL intensity</text></g>
</svg>
</body></html>
